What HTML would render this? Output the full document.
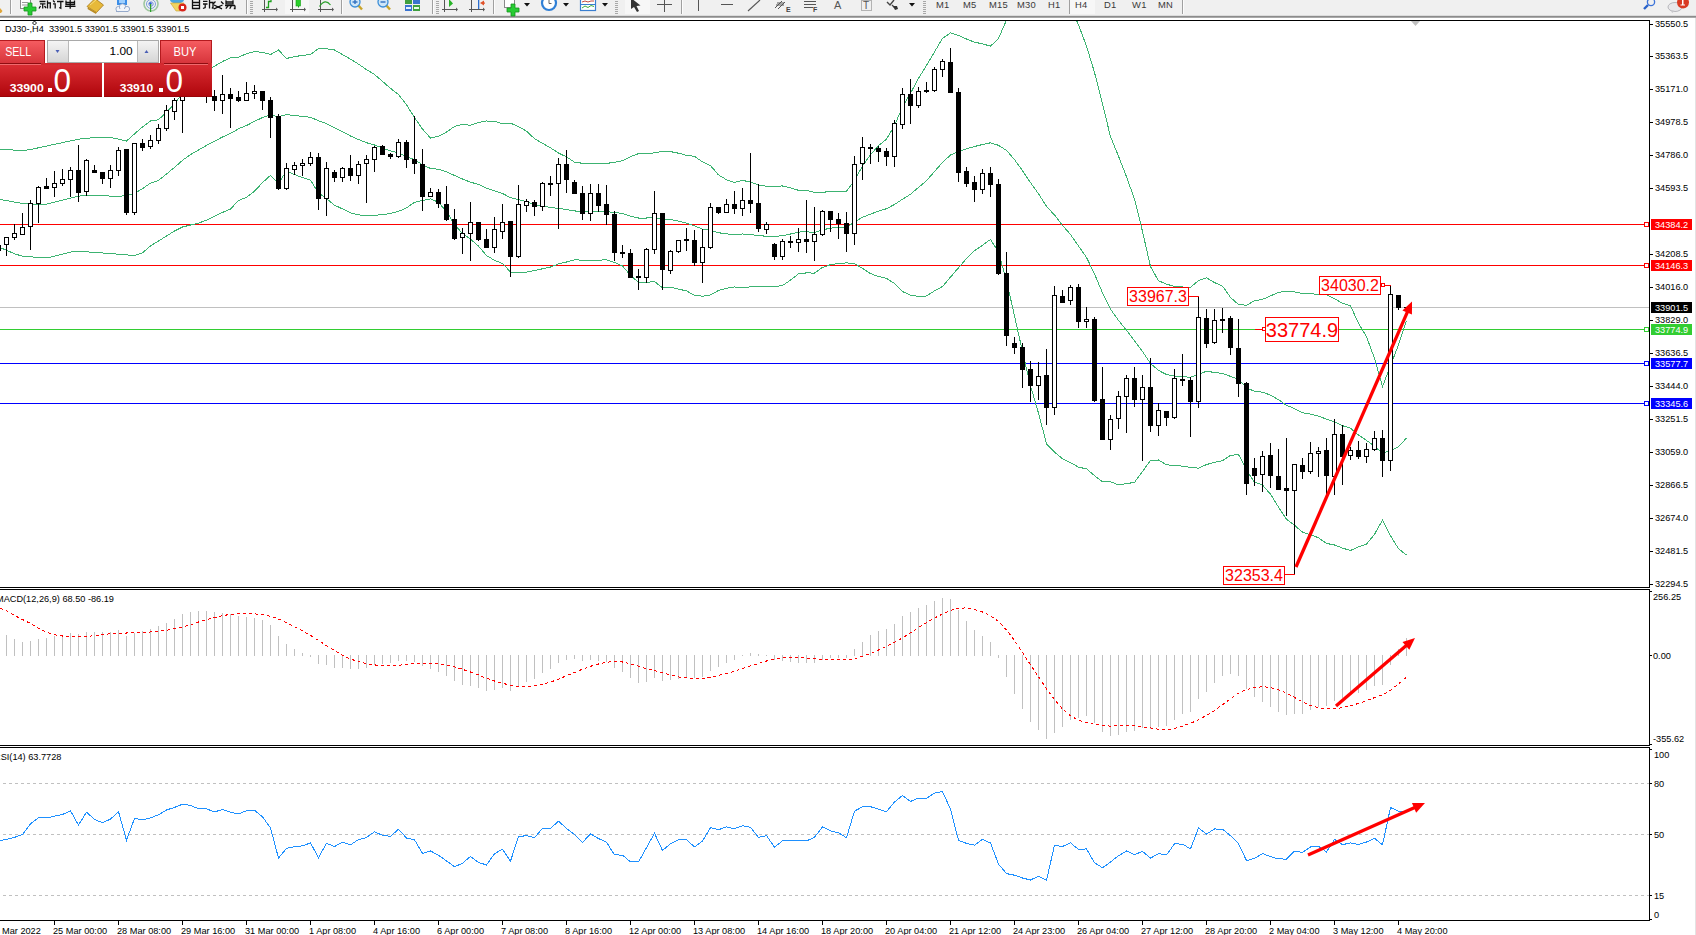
<!DOCTYPE html>
<html><head><meta charset="utf-8"><style>
html,body{margin:0;padding:0;width:1696px;height:935px;overflow:hidden;background:#fff;position:relative}
svg text{font-family:"Liberation Sans",sans-serif}
</style></head><body>
<svg width="1696" height="935" viewBox="0 0 1696 935" style="position:absolute;left:0;top:0">
<rect x="0" y="0" width="1696" height="935" fill="#fff"/>
<g shape-rendering="crispEdges">
<rect x="0" y="307" width="1649" height="1" fill="#c0c0c0"/>
<rect x="0" y="224" width="1644" height="1" fill="#ff0000"/>
<rect x="1644.5" y="222.5" width="4" height="4" fill="#fff" stroke="#ff0000" stroke-width="1"/>
<rect x="0" y="265" width="1644" height="1" fill="#ff0000"/>
<rect x="1644.5" y="263.5" width="4" height="4" fill="#fff" stroke="#ff0000" stroke-width="1"/>
<rect x="0" y="329" width="1644" height="1" fill="#32cd32"/>
<rect x="1644.5" y="327.5" width="4" height="4" fill="#fff" stroke="#32cd32" stroke-width="1"/>
<rect x="0" y="363" width="1644" height="1" fill="#0000ff"/>
<rect x="1644.5" y="361.5" width="4" height="4" fill="#fff" stroke="#0000ff" stroke-width="1"/>
<rect x="0" y="403" width="1644" height="1" fill="#0000ff"/>
<rect x="1644.5" y="401.5" width="4" height="4" fill="#fff" stroke="#0000ff" stroke-width="1"/>
</g>
<defs><clipPath id="cm"><rect x="0" y="21" width="1649" height="566"/></clipPath></defs>
<g shape-rendering="crispEdges" clip-path="url(#cm)">
<polyline points="0.0,149.3 6.5,149.7 14.5,150.1 22.5,150.6 30.5,149.5 38.5,147.8 46.5,146.1 54.5,144.3 62.5,142.6 70.5,140.9 78.5,139.2 86.5,138.1 94.5,137.9 102.5,137.7 110.5,137.5 118.5,139.2 126.5,141.0 134.5,133.9 142.5,126.9 150.5,121.0 158.5,119.7 166.5,112.1 174.5,103.7 182.5,93.7 190.5,84.2 198.5,76.8 206.5,70.7 214.5,66.3 222.5,61.5 230.5,57.8 238.5,57.1 246.5,53.7 254.5,51.6 262.5,52.4 270.5,54.5 278.5,50.0 286.5,58.5 294.5,56.6 302.5,55.4 310.5,54.4 318.5,48.7 326.5,48.8 334.5,50.0 342.5,54.5 350.5,59.2 358.5,64.1 366.5,69.6 374.5,74.5 382.5,81.4 390.5,88.3 398.5,94.6 406.5,104.7 414.5,117.6 422.5,129.1 430.5,138.1 438.5,136.2 446.5,132.1 454.5,126.5 462.5,124.3 470.5,125.3 478.5,122.4 486.5,121.0 494.5,121.4 502.5,123.6 510.5,123.1 518.5,126.7 526.5,131.1 534.5,138.7 542.5,143.3 550.5,147.8 558.5,153.0 566.5,156.9 574.5,162.1 582.5,163.3 590.5,163.5 598.5,163.6 606.5,163.5 614.5,162.2 622.5,160.8 630.5,156.7 638.5,153.6 646.5,153.5 654.5,152.9 662.5,151.3 670.5,151.6 678.5,153.2 686.5,155.3 694.5,156.4 702.5,161.9 710.5,165.6 718.5,174.9 726.5,179.7 734.5,182.4 742.5,180.3 750.5,182.2 758.5,185.0 766.5,186.2 774.5,186.1 782.5,186.0 790.5,187.8 798.5,190.3 806.5,190.4 814.5,192.3 822.5,192.2 830.5,191.7 838.5,191.3 846.5,191.3 854.5,180.6 862.5,166.0 870.5,154.7 878.5,145.7 886.5,139.1 894.5,125.5 902.5,106.8 910.5,93.3 918.5,78.3 926.5,65.5 934.5,51.9 942.5,38.4 950.5,32.9 958.5,35.5 966.5,39.0 974.5,42.2 982.5,43.8 990.5,46.2 998.5,38.4 1006.5,20.0 1014.5,3.3 1022.5,-10.2 1030.5,-20.6 1038.5,-25.5 1046.5,-31.0 1054.5,-22.2 1062.5,-7.9 1070.5,6.5 1078.5,24.9 1086.5,46.1 1094.5,72.4 1102.5,104.0 1110.5,136.7 1118.5,156.1 1126.5,176.8 1134.5,199.1 1142.5,231.4 1150.5,266.6 1158.5,280.8 1166.5,284.1 1174.5,286.5 1182.5,287.0 1190.5,287.2 1198.5,280.6 1206.5,277.8 1214.5,282.6 1222.5,286.1 1230.5,297.4 1238.5,304.5 1246.5,305.3 1254.5,300.7 1262.5,299.4 1270.5,295.9 1278.5,292.3 1286.5,291.5 1294.5,291.9 1302.5,293.4 1310.5,293.6 1318.5,294.6 1326.5,294.7 1334.5,298.8 1342.5,303.2 1350.5,305.8 1358.5,323.3 1366.5,336.7 1374.5,358.3 1382.5,386.6 1390.5,365.5 1398.5,344.9 1406.5,320.9" fill="none" stroke="#3cb371" stroke-width="1" />
<polyline points="0.0,199.4 6.5,200.6 14.5,202.1 22.5,203.5 30.5,204.2 38.5,204.4 46.5,204.1 54.5,202.1 62.5,200.2 70.5,198.2 78.5,196.2 86.5,195.1 94.5,195.4 102.5,195.7 110.5,196.1 118.5,196.4 126.5,195.4 134.5,193.4 142.5,188.6 150.5,183.2 158.5,180.4 166.5,174.0 174.5,167.4 182.5,160.3 190.5,154.6 198.5,150.0 206.5,145.4 214.5,141.2 222.5,137.0 230.5,133.4 238.5,128.8 246.5,125.5 254.5,121.4 262.5,117.5 270.5,114.9 278.5,116.8 286.5,114.6 294.5,115.6 302.5,116.4 310.5,117.3 318.5,120.8 326.5,123.7 334.5,127.6 342.5,131.7 350.5,136.0 358.5,139.5 366.5,142.7 374.5,145.0 382.5,148.0 390.5,150.9 398.5,153.0 406.5,156.3 414.5,159.9 422.5,164.7 430.5,168.5 438.5,169.2 446.5,171.8 454.5,175.5 462.5,179.0 470.5,182.2 478.5,184.3 486.5,188.2 494.5,190.8 502.5,193.5 510.5,197.6 518.5,199.6 526.5,201.7 534.5,204.6 542.5,206.1 550.5,207.4 558.5,208.5 566.5,209.5 574.5,210.9 582.5,211.8 590.5,211.8 598.5,211.9 606.5,211.7 614.5,212.4 622.5,213.4 630.5,216.1 638.5,218.0 646.5,218.0 654.5,217.2 662.5,219.6 670.5,219.4 678.5,221.2 686.5,223.1 694.5,225.9 702.5,229.1 710.5,230.3 718.5,232.7 726.5,233.9 734.5,234.7 742.5,234.0 750.5,234.5 758.5,235.7 766.5,236.2 774.5,236.4 782.5,235.7 790.5,234.0 798.5,232.1 806.5,231.7 814.5,232.7 822.5,229.8 830.5,228.2 838.5,227.4 846.5,227.1 854.5,222.2 862.5,217.2 870.5,214.2 878.5,211.1 886.5,208.7 894.5,204.5 902.5,199.2 910.5,194.3 918.5,187.4 926.5,180.8 934.5,171.4 942.5,162.5 950.5,155.0 958.5,151.7 966.5,148.7 974.5,146.5 982.5,144.5 990.5,142.8 998.5,145.3 1006.5,150.4 1014.5,159.6 1022.5,170.7 1030.5,182.6 1038.5,193.8 1046.5,206.4 1054.5,215.0 1062.5,225.4 1070.5,234.5 1078.5,246.0 1086.5,257.4 1094.5,274.0 1102.5,292.9 1110.5,309.2 1118.5,320.4 1126.5,330.2 1134.5,340.8 1142.5,351.5 1150.5,363.5 1158.5,370.4 1166.5,374.5 1174.5,376.0 1182.5,376.6 1190.5,377.3 1198.5,374.4 1206.5,371.2 1214.5,372.5 1222.5,373.4 1230.5,376.4 1238.5,379.5 1246.5,387.7 1254.5,391.4 1262.5,392.2 1270.5,395.1 1278.5,399.7 1286.5,405.3 1294.5,408.6 1302.5,412.8 1310.5,414.1 1318.5,416.2 1326.5,419.1 1334.5,421.9 1342.5,425.7 1350.5,428.1 1358.5,435.1 1366.5,440.4 1374.5,446.3 1382.5,453.3 1390.5,450.6 1398.5,446.8 1406.5,438.0" fill="none" stroke="#3cb371" stroke-width="1" />
<polyline points="0.0,247.5 6.5,250.3 14.5,253.8 22.5,256.2 30.5,256.8 38.5,257.4 46.5,258.0 54.5,256.1 62.5,254.1 70.5,252.1 78.5,251.3 86.5,251.8 94.5,252.4 102.5,253.0 110.5,253.6 118.5,254.2 126.5,254.9 134.5,255.6 142.5,252.9 150.5,245.9 158.5,241.0 166.5,236.0 174.5,231.0 182.5,227.0 190.5,225.0 198.5,223.2 206.5,220.1 214.5,216.2 222.5,212.4 230.5,209.0 238.5,200.5 246.5,197.3 254.5,191.2 262.5,182.6 270.5,175.3 278.5,183.6 286.5,170.7 294.5,174.6 302.5,177.5 310.5,180.2 318.5,193.0 326.5,198.6 334.5,205.2 342.5,208.9 350.5,212.8 358.5,214.8 366.5,215.7 374.5,215.4 382.5,214.6 390.5,213.5 398.5,211.4 406.5,207.9 414.5,202.3 422.5,200.4 430.5,198.9 438.5,202.3 446.5,211.5 454.5,224.5 462.5,233.7 470.5,239.1 478.5,246.1 486.5,255.5 494.5,260.3 502.5,263.5 510.5,272.0 518.5,272.5 526.5,272.2 534.5,270.6 542.5,268.8 550.5,267.0 558.5,263.9 566.5,262.0 574.5,259.8 582.5,260.2 590.5,260.2 598.5,260.2 606.5,259.8 614.5,262.5 622.5,265.9 630.5,275.4 638.5,282.4 646.5,282.5 654.5,281.5 662.5,287.9 670.5,287.1 678.5,289.1 686.5,290.9 694.5,295.3 702.5,296.2 710.5,294.9 718.5,290.5 726.5,288.2 734.5,287.0 742.5,287.7 750.5,286.8 758.5,286.4 766.5,286.2 774.5,286.6 782.5,285.5 790.5,280.1 798.5,273.8 806.5,272.9 814.5,273.1 822.5,267.4 830.5,264.7 838.5,263.5 846.5,262.9 854.5,263.7 862.5,268.3 870.5,273.6 878.5,276.5 886.5,278.4 894.5,283.5 902.5,291.6 910.5,295.2 918.5,296.4 926.5,296.0 934.5,290.9 942.5,286.5 950.5,277.1 958.5,267.8 966.5,258.5 974.5,250.7 982.5,245.3 990.5,239.4 998.5,252.2 1006.5,280.8 1014.5,315.9 1022.5,351.6 1030.5,385.8 1038.5,413.2 1046.5,443.8 1054.5,452.2 1062.5,458.7 1070.5,462.6 1078.5,467.2 1086.5,468.8 1094.5,475.6 1102.5,481.8 1110.5,481.8 1118.5,484.8 1126.5,483.6 1134.5,482.4 1142.5,471.5 1150.5,460.4 1158.5,460.0 1166.5,464.8 1174.5,465.6 1182.5,466.1 1190.5,467.4 1198.5,468.2 1206.5,464.6 1214.5,462.3 1222.5,460.7 1230.5,455.4 1238.5,454.4 1246.5,470.1 1254.5,482.1 1262.5,485.0 1270.5,494.2 1278.5,507.1 1286.5,519.2 1294.5,525.3 1302.5,532.1 1310.5,534.7 1318.5,537.8 1326.5,543.4 1334.5,545.0 1342.5,548.1 1350.5,550.5 1358.5,546.9 1366.5,544.1 1374.5,534.3 1382.5,520.0 1390.5,535.7 1398.5,548.7 1406.5,555.1" fill="none" stroke="#3cb371" stroke-width="1" />
</g>
<g shape-rendering="crispEdges">
<rect x="-2" y="240" width="1" height="14" fill="#000"/>
<rect x="-4" y="245" width="5" height="6" fill="#000"/>
<rect x="6" y="237" width="1" height="19" fill="#000"/>
<rect x="4" y="237" width="5" height="8" fill="#000"/>
<rect x="5" y="238" width="3" height="6" fill="#fff"/>
<rect x="14" y="224" width="1" height="16" fill="#000"/>
<rect x="12" y="233" width="5" height="5" fill="#000"/>
<rect x="13" y="234" width="3" height="3" fill="#fff"/>
<rect x="22" y="213" width="1" height="22" fill="#000"/>
<rect x="20" y="227" width="5" height="8" fill="#000"/>
<rect x="21" y="228" width="3" height="6" fill="#fff"/>
<rect x="30" y="200" width="1" height="50" fill="#000"/>
<rect x="28" y="203" width="5" height="24" fill="#000"/>
<rect x="29" y="204" width="3" height="22" fill="#fff"/>
<rect x="38" y="186" width="1" height="37" fill="#000"/>
<rect x="36" y="187" width="5" height="17" fill="#000"/>
<rect x="37" y="188" width="3" height="15" fill="#fff"/>
<rect x="46" y="178" width="1" height="11" fill="#000"/>
<rect x="44" y="186" width="5" height="3" fill="#000"/>
<rect x="54" y="171" width="1" height="26" fill="#000"/>
<rect x="52" y="183" width="5" height="5" fill="#000"/>
<rect x="53" y="184" width="3" height="3" fill="#fff"/>
<rect x="62" y="169" width="1" height="17" fill="#000"/>
<rect x="60" y="179" width="5" height="5" fill="#000"/>
<rect x="61" y="180" width="3" height="3" fill="#fff"/>
<rect x="70" y="167" width="1" height="30" fill="#000"/>
<rect x="68" y="170" width="5" height="10" fill="#000"/>
<rect x="69" y="171" width="3" height="8" fill="#fff"/>
<rect x="78" y="145" width="1" height="57" fill="#000"/>
<rect x="76" y="170" width="5" height="23" fill="#000"/>
<rect x="86" y="159" width="1" height="37" fill="#000"/>
<rect x="84" y="160" width="5" height="32" fill="#000"/>
<rect x="85" y="161" width="3" height="30" fill="#fff"/>
<rect x="94" y="165" width="1" height="8" fill="#000"/>
<rect x="92" y="170" width="5" height="3" fill="#000"/>
<rect x="102" y="172" width="1" height="12" fill="#000"/>
<rect x="100" y="172" width="5" height="7" fill="#000"/>
<rect x="110" y="165" width="1" height="23" fill="#000"/>
<rect x="108" y="170" width="5" height="9" fill="#000"/>
<rect x="109" y="171" width="3" height="7" fill="#fff"/>
<rect x="118" y="147" width="1" height="29" fill="#000"/>
<rect x="116" y="150" width="5" height="21" fill="#000"/>
<rect x="117" y="151" width="3" height="19" fill="#fff"/>
<rect x="126" y="149" width="1" height="66" fill="#000"/>
<rect x="124" y="149" width="5" height="64" fill="#000"/>
<rect x="134" y="143" width="1" height="72" fill="#000"/>
<rect x="132" y="143" width="5" height="70" fill="#000"/>
<rect x="133" y="144" width="3" height="68" fill="#fff"/>
<rect x="142" y="139" width="1" height="12" fill="#000"/>
<rect x="140" y="143" width="5" height="5" fill="#000"/>
<rect x="150" y="135" width="1" height="14" fill="#000"/>
<rect x="148" y="140" width="5" height="7" fill="#000"/>
<rect x="149" y="141" width="3" height="5" fill="#fff"/>
<rect x="158" y="124" width="1" height="20" fill="#000"/>
<rect x="156" y="128" width="5" height="13" fill="#000"/>
<rect x="157" y="129" width="3" height="11" fill="#fff"/>
<rect x="166" y="105" width="1" height="26" fill="#000"/>
<rect x="164" y="110" width="5" height="19" fill="#000"/>
<rect x="165" y="111" width="3" height="17" fill="#fff"/>
<rect x="174" y="98" width="1" height="22" fill="#000"/>
<rect x="172" y="100" width="5" height="12" fill="#000"/>
<rect x="173" y="101" width="3" height="10" fill="#fff"/>
<rect x="182" y="84" width="1" height="49" fill="#000"/>
<rect x="180" y="86" width="5" height="15" fill="#000"/>
<rect x="181" y="87" width="3" height="13" fill="#fff"/>
<rect x="190" y="80" width="1" height="16" fill="#000"/>
<rect x="188" y="86" width="5" height="3" fill="#000"/>
<rect x="198" y="85" width="1" height="12" fill="#000"/>
<rect x="196" y="88" width="5" height="8" fill="#000"/>
<rect x="206" y="90" width="1" height="13" fill="#000"/>
<rect x="204" y="92" width="5" height="4" fill="#000"/>
<rect x="214" y="90" width="1" height="21" fill="#000"/>
<rect x="212" y="96" width="5" height="5" fill="#000"/>
<rect x="222" y="75" width="1" height="39" fill="#000"/>
<rect x="220" y="94" width="5" height="7" fill="#000"/>
<rect x="221" y="95" width="3" height="5" fill="#fff"/>
<rect x="230" y="88" width="1" height="40" fill="#000"/>
<rect x="228" y="94" width="5" height="5" fill="#000"/>
<rect x="238" y="91" width="1" height="11" fill="#000"/>
<rect x="236" y="97" width="5" height="4" fill="#000"/>
<rect x="246" y="82" width="1" height="19" fill="#000"/>
<rect x="244" y="93" width="5" height="8" fill="#000"/>
<rect x="245" y="94" width="3" height="6" fill="#fff"/>
<rect x="254" y="85" width="1" height="14" fill="#000"/>
<rect x="252" y="91" width="5" height="3" fill="#000"/>
<rect x="253" y="92" width="3" height="1" fill="#fff"/>
<rect x="262" y="91" width="1" height="19" fill="#000"/>
<rect x="260" y="91" width="5" height="10" fill="#000"/>
<rect x="270" y="97" width="1" height="41" fill="#000"/>
<rect x="268" y="100" width="5" height="18" fill="#000"/>
<rect x="278" y="114" width="1" height="76" fill="#000"/>
<rect x="276" y="116" width="5" height="73" fill="#000"/>
<rect x="286" y="163" width="1" height="27" fill="#000"/>
<rect x="284" y="168" width="5" height="21" fill="#000"/>
<rect x="285" y="169" width="3" height="19" fill="#fff"/>
<rect x="294" y="162" width="1" height="13" fill="#000"/>
<rect x="292" y="165" width="5" height="5" fill="#000"/>
<rect x="293" y="166" width="3" height="3" fill="#fff"/>
<rect x="302" y="159" width="1" height="17" fill="#000"/>
<rect x="300" y="163" width="5" height="3" fill="#000"/>
<rect x="301" y="164" width="3" height="1" fill="#fff"/>
<rect x="310" y="152" width="1" height="14" fill="#000"/>
<rect x="308" y="157" width="5" height="7" fill="#000"/>
<rect x="309" y="158" width="3" height="5" fill="#fff"/>
<rect x="318" y="153" width="1" height="57" fill="#000"/>
<rect x="316" y="157" width="5" height="42" fill="#000"/>
<rect x="326" y="162" width="1" height="54" fill="#000"/>
<rect x="324" y="168" width="5" height="31" fill="#000"/>
<rect x="325" y="169" width="3" height="29" fill="#fff"/>
<rect x="334" y="170" width="1" height="12" fill="#000"/>
<rect x="332" y="172" width="5" height="6" fill="#000"/>
<rect x="342" y="167" width="1" height="15" fill="#000"/>
<rect x="340" y="168" width="5" height="10" fill="#000"/>
<rect x="341" y="169" width="3" height="8" fill="#fff"/>
<rect x="350" y="155" width="1" height="26" fill="#000"/>
<rect x="348" y="168" width="5" height="8" fill="#000"/>
<rect x="358" y="161" width="1" height="23" fill="#000"/>
<rect x="356" y="164" width="5" height="12" fill="#000"/>
<rect x="357" y="165" width="3" height="10" fill="#fff"/>
<rect x="366" y="155" width="1" height="48" fill="#000"/>
<rect x="364" y="159" width="5" height="5" fill="#000"/>
<rect x="365" y="160" width="3" height="3" fill="#fff"/>
<rect x="374" y="146" width="1" height="26" fill="#000"/>
<rect x="372" y="147" width="5" height="13" fill="#000"/>
<rect x="373" y="148" width="3" height="11" fill="#fff"/>
<rect x="382" y="145" width="1" height="10" fill="#000"/>
<rect x="380" y="146" width="5" height="9" fill="#000"/>
<rect x="390" y="153" width="1" height="6" fill="#000"/>
<rect x="388" y="154" width="5" height="3" fill="#000"/>
<rect x="398" y="139" width="1" height="19" fill="#000"/>
<rect x="396" y="142" width="5" height="15" fill="#000"/>
<rect x="397" y="143" width="3" height="13" fill="#fff"/>
<rect x="406" y="140" width="1" height="28" fill="#000"/>
<rect x="404" y="142" width="5" height="18" fill="#000"/>
<rect x="414" y="116" width="1" height="58" fill="#000"/>
<rect x="412" y="159" width="5" height="5" fill="#000"/>
<rect x="422" y="149" width="1" height="62" fill="#000"/>
<rect x="420" y="164" width="5" height="33" fill="#000"/>
<rect x="430" y="188" width="1" height="9" fill="#000"/>
<rect x="428" y="192" width="5" height="5" fill="#000"/>
<rect x="429" y="193" width="3" height="3" fill="#fff"/>
<rect x="438" y="189" width="1" height="19" fill="#000"/>
<rect x="436" y="192" width="5" height="12" fill="#000"/>
<rect x="446" y="186" width="1" height="35" fill="#000"/>
<rect x="444" y="204" width="5" height="16" fill="#000"/>
<rect x="454" y="209" width="1" height="31" fill="#000"/>
<rect x="452" y="219" width="5" height="20" fill="#000"/>
<rect x="462" y="228" width="1" height="26" fill="#000"/>
<rect x="460" y="233" width="5" height="5" fill="#000"/>
<rect x="461" y="234" width="3" height="3" fill="#fff"/>
<rect x="470" y="202" width="1" height="59" fill="#000"/>
<rect x="468" y="222" width="5" height="12" fill="#000"/>
<rect x="469" y="223" width="3" height="10" fill="#fff"/>
<rect x="478" y="222" width="1" height="19" fill="#000"/>
<rect x="476" y="222" width="5" height="18" fill="#000"/>
<rect x="486" y="229" width="1" height="19" fill="#000"/>
<rect x="484" y="239" width="5" height="9" fill="#000"/>
<rect x="494" y="217" width="1" height="36" fill="#000"/>
<rect x="492" y="229" width="5" height="19" fill="#000"/>
<rect x="493" y="230" width="3" height="17" fill="#fff"/>
<rect x="502" y="204" width="1" height="35" fill="#000"/>
<rect x="500" y="222" width="5" height="10" fill="#000"/>
<rect x="501" y="223" width="3" height="8" fill="#fff"/>
<rect x="510" y="221" width="1" height="56" fill="#000"/>
<rect x="508" y="221" width="5" height="36" fill="#000"/>
<rect x="518" y="185" width="1" height="73" fill="#000"/>
<rect x="516" y="204" width="5" height="53" fill="#000"/>
<rect x="517" y="205" width="3" height="51" fill="#fff"/>
<rect x="526" y="199" width="1" height="13" fill="#000"/>
<rect x="524" y="201" width="5" height="5" fill="#000"/>
<rect x="525" y="202" width="3" height="3" fill="#fff"/>
<rect x="534" y="200" width="1" height="16" fill="#000"/>
<rect x="532" y="202" width="5" height="5" fill="#000"/>
<rect x="542" y="182" width="1" height="29" fill="#000"/>
<rect x="540" y="183" width="5" height="24" fill="#000"/>
<rect x="541" y="184" width="3" height="22" fill="#fff"/>
<rect x="550" y="176" width="1" height="20" fill="#000"/>
<rect x="548" y="183" width="5" height="2" fill="#000"/>
<rect x="558" y="158" width="1" height="71" fill="#000"/>
<rect x="556" y="164" width="5" height="20" fill="#000"/>
<rect x="557" y="165" width="3" height="18" fill="#fff"/>
<rect x="566" y="150" width="1" height="43" fill="#000"/>
<rect x="564" y="164" width="5" height="16" fill="#000"/>
<rect x="574" y="180" width="1" height="14" fill="#000"/>
<rect x="572" y="182" width="5" height="12" fill="#000"/>
<rect x="582" y="186" width="1" height="34" fill="#000"/>
<rect x="580" y="193" width="5" height="21" fill="#000"/>
<rect x="590" y="184" width="1" height="37" fill="#000"/>
<rect x="588" y="193" width="5" height="21" fill="#000"/>
<rect x="589" y="194" width="3" height="19" fill="#fff"/>
<rect x="598" y="184" width="1" height="28" fill="#000"/>
<rect x="596" y="193" width="5" height="13" fill="#000"/>
<rect x="606" y="185" width="1" height="40" fill="#000"/>
<rect x="604" y="204" width="5" height="11" fill="#000"/>
<rect x="614" y="211" width="1" height="50" fill="#000"/>
<rect x="612" y="214" width="5" height="39" fill="#000"/>
<rect x="622" y="245" width="1" height="13" fill="#000"/>
<rect x="620" y="252" width="5" height="2" fill="#000"/>
<rect x="630" y="249" width="1" height="29" fill="#000"/>
<rect x="628" y="253" width="5" height="25" fill="#000"/>
<rect x="638" y="269" width="1" height="21" fill="#000"/>
<rect x="636" y="276" width="5" height="2" fill="#000"/>
<rect x="646" y="248" width="1" height="35" fill="#000"/>
<rect x="644" y="249" width="5" height="29" fill="#000"/>
<rect x="645" y="250" width="3" height="27" fill="#fff"/>
<rect x="654" y="191" width="1" height="63" fill="#000"/>
<rect x="652" y="213" width="5" height="37" fill="#000"/>
<rect x="653" y="214" width="3" height="35" fill="#fff"/>
<rect x="662" y="213" width="1" height="77" fill="#000"/>
<rect x="660" y="213" width="5" height="57" fill="#000"/>
<rect x="670" y="250" width="1" height="24" fill="#000"/>
<rect x="668" y="251" width="5" height="20" fill="#000"/>
<rect x="669" y="252" width="3" height="18" fill="#fff"/>
<rect x="678" y="240" width="1" height="13" fill="#000"/>
<rect x="676" y="240" width="5" height="12" fill="#000"/>
<rect x="677" y="241" width="3" height="10" fill="#fff"/>
<rect x="686" y="228" width="1" height="23" fill="#000"/>
<rect x="684" y="239" width="5" height="2" fill="#000"/>
<rect x="694" y="230" width="1" height="36" fill="#000"/>
<rect x="692" y="240" width="5" height="23" fill="#000"/>
<rect x="702" y="229" width="1" height="54" fill="#000"/>
<rect x="700" y="247" width="5" height="16" fill="#000"/>
<rect x="701" y="248" width="3" height="14" fill="#fff"/>
<rect x="710" y="203" width="1" height="46" fill="#000"/>
<rect x="708" y="207" width="5" height="41" fill="#000"/>
<rect x="709" y="208" width="3" height="39" fill="#fff"/>
<rect x="718" y="207" width="1" height="7" fill="#000"/>
<rect x="716" y="207" width="5" height="6" fill="#000"/>
<rect x="726" y="199" width="1" height="14" fill="#000"/>
<rect x="724" y="204" width="5" height="9" fill="#000"/>
<rect x="725" y="205" width="3" height="7" fill="#fff"/>
<rect x="734" y="191" width="1" height="23" fill="#000"/>
<rect x="732" y="204" width="5" height="5" fill="#000"/>
<rect x="742" y="188" width="1" height="28" fill="#000"/>
<rect x="740" y="200" width="5" height="9" fill="#000"/>
<rect x="741" y="201" width="3" height="7" fill="#fff"/>
<rect x="750" y="153" width="1" height="60" fill="#000"/>
<rect x="748" y="200" width="5" height="4" fill="#000"/>
<rect x="758" y="184" width="1" height="48" fill="#000"/>
<rect x="756" y="203" width="5" height="26" fill="#000"/>
<rect x="766" y="222" width="1" height="12" fill="#000"/>
<rect x="764" y="224" width="5" height="6" fill="#000"/>
<rect x="765" y="225" width="3" height="4" fill="#fff"/>
<rect x="774" y="243" width="1" height="17" fill="#000"/>
<rect x="772" y="244" width="5" height="13" fill="#000"/>
<rect x="782" y="239" width="1" height="21" fill="#000"/>
<rect x="780" y="241" width="5" height="16" fill="#000"/>
<rect x="781" y="242" width="3" height="14" fill="#fff"/>
<rect x="790" y="236" width="1" height="12" fill="#000"/>
<rect x="788" y="241" width="5" height="2" fill="#000"/>
<rect x="798" y="228" width="1" height="24" fill="#000"/>
<rect x="796" y="239" width="5" height="4" fill="#000"/>
<rect x="797" y="240" width="3" height="2" fill="#fff"/>
<rect x="806" y="200" width="1" height="53" fill="#000"/>
<rect x="804" y="239" width="5" height="3" fill="#000"/>
<rect x="814" y="207" width="1" height="54" fill="#000"/>
<rect x="812" y="234" width="5" height="8" fill="#000"/>
<rect x="813" y="235" width="3" height="6" fill="#fff"/>
<rect x="822" y="210" width="1" height="26" fill="#000"/>
<rect x="820" y="211" width="5" height="24" fill="#000"/>
<rect x="821" y="212" width="3" height="22" fill="#fff"/>
<rect x="830" y="211" width="1" height="21" fill="#000"/>
<rect x="828" y="211" width="5" height="9" fill="#000"/>
<rect x="838" y="213" width="1" height="26" fill="#000"/>
<rect x="836" y="219" width="5" height="5" fill="#000"/>
<rect x="846" y="212" width="1" height="40" fill="#000"/>
<rect x="844" y="223" width="5" height="11" fill="#000"/>
<rect x="854" y="156" width="1" height="89" fill="#000"/>
<rect x="852" y="164" width="5" height="70" fill="#000"/>
<rect x="853" y="165" width="3" height="68" fill="#fff"/>
<rect x="862" y="137" width="1" height="43" fill="#000"/>
<rect x="860" y="147" width="5" height="17" fill="#000"/>
<rect x="861" y="148" width="3" height="15" fill="#fff"/>
<rect x="870" y="144" width="1" height="20" fill="#000"/>
<rect x="868" y="147" width="5" height="2" fill="#000"/>
<rect x="878" y="146" width="1" height="16" fill="#000"/>
<rect x="876" y="148" width="5" height="4" fill="#000"/>
<rect x="886" y="148" width="1" height="18" fill="#000"/>
<rect x="884" y="151" width="5" height="6" fill="#000"/>
<rect x="894" y="120" width="1" height="47" fill="#000"/>
<rect x="892" y="123" width="5" height="34" fill="#000"/>
<rect x="893" y="124" width="3" height="32" fill="#fff"/>
<rect x="902" y="88" width="1" height="41" fill="#000"/>
<rect x="900" y="94" width="5" height="31" fill="#000"/>
<rect x="901" y="95" width="3" height="29" fill="#fff"/>
<rect x="910" y="79" width="1" height="45" fill="#000"/>
<rect x="908" y="94" width="5" height="12" fill="#000"/>
<rect x="918" y="87" width="1" height="21" fill="#000"/>
<rect x="916" y="91" width="5" height="15" fill="#000"/>
<rect x="917" y="92" width="3" height="13" fill="#fff"/>
<rect x="926" y="82" width="1" height="11" fill="#000"/>
<rect x="924" y="90" width="5" height="2" fill="#000"/>
<rect x="934" y="67" width="1" height="25" fill="#000"/>
<rect x="932" y="69" width="5" height="22" fill="#000"/>
<rect x="933" y="70" width="3" height="20" fill="#fff"/>
<rect x="942" y="59" width="1" height="18" fill="#000"/>
<rect x="940" y="61" width="5" height="9" fill="#000"/>
<rect x="941" y="62" width="3" height="7" fill="#fff"/>
<rect x="950" y="48" width="1" height="45" fill="#000"/>
<rect x="948" y="62" width="5" height="31" fill="#000"/>
<rect x="958" y="88" width="1" height="94" fill="#000"/>
<rect x="956" y="92" width="5" height="81" fill="#000"/>
<rect x="966" y="167" width="1" height="20" fill="#000"/>
<rect x="964" y="171" width="5" height="13" fill="#000"/>
<rect x="974" y="176" width="1" height="26" fill="#000"/>
<rect x="972" y="182" width="5" height="8" fill="#000"/>
<rect x="982" y="169" width="1" height="25" fill="#000"/>
<rect x="980" y="173" width="5" height="17" fill="#000"/>
<rect x="981" y="174" width="3" height="15" fill="#fff"/>
<rect x="990" y="167" width="1" height="30" fill="#000"/>
<rect x="988" y="173" width="5" height="12" fill="#000"/>
<rect x="998" y="179" width="1" height="96" fill="#000"/>
<rect x="996" y="184" width="5" height="90" fill="#000"/>
<rect x="1006" y="252" width="1" height="94" fill="#000"/>
<rect x="1004" y="273" width="5" height="63" fill="#000"/>
<rect x="1014" y="337" width="1" height="17" fill="#000"/>
<rect x="1012" y="343" width="5" height="5" fill="#000"/>
<rect x="1022" y="343" width="1" height="45" fill="#000"/>
<rect x="1020" y="347" width="5" height="23" fill="#000"/>
<rect x="1030" y="361" width="1" height="41" fill="#000"/>
<rect x="1028" y="369" width="5" height="17" fill="#000"/>
<rect x="1038" y="362" width="1" height="38" fill="#000"/>
<rect x="1036" y="376" width="5" height="10" fill="#000"/>
<rect x="1037" y="377" width="3" height="8" fill="#fff"/>
<rect x="1046" y="349" width="1" height="76" fill="#000"/>
<rect x="1044" y="375" width="5" height="33" fill="#000"/>
<rect x="1054" y="286" width="1" height="129" fill="#000"/>
<rect x="1052" y="295" width="5" height="113" fill="#000"/>
<rect x="1053" y="296" width="3" height="111" fill="#fff"/>
<rect x="1062" y="290" width="1" height="13" fill="#000"/>
<rect x="1060" y="296" width="5" height="7" fill="#000"/>
<rect x="1070" y="285" width="1" height="20" fill="#000"/>
<rect x="1068" y="287" width="5" height="14" fill="#000"/>
<rect x="1069" y="288" width="3" height="12" fill="#fff"/>
<rect x="1078" y="284" width="1" height="44" fill="#000"/>
<rect x="1076" y="287" width="5" height="35" fill="#000"/>
<rect x="1086" y="307" width="1" height="21" fill="#000"/>
<rect x="1084" y="319" width="5" height="3" fill="#000"/>
<rect x="1085" y="320" width="3" height="1" fill="#fff"/>
<rect x="1094" y="317" width="1" height="85" fill="#000"/>
<rect x="1092" y="319" width="5" height="82" fill="#000"/>
<rect x="1102" y="367" width="1" height="73" fill="#000"/>
<rect x="1100" y="399" width="5" height="41" fill="#000"/>
<rect x="1110" y="415" width="1" height="35" fill="#000"/>
<rect x="1108" y="419" width="5" height="21" fill="#000"/>
<rect x="1109" y="420" width="3" height="19" fill="#fff"/>
<rect x="1118" y="391" width="1" height="38" fill="#000"/>
<rect x="1116" y="396" width="5" height="23" fill="#000"/>
<rect x="1117" y="397" width="3" height="21" fill="#fff"/>
<rect x="1126" y="375" width="1" height="58" fill="#000"/>
<rect x="1124" y="378" width="5" height="19" fill="#000"/>
<rect x="1125" y="379" width="3" height="17" fill="#fff"/>
<rect x="1134" y="367" width="1" height="40" fill="#000"/>
<rect x="1132" y="378" width="5" height="22" fill="#000"/>
<rect x="1142" y="375" width="1" height="86" fill="#000"/>
<rect x="1140" y="387" width="5" height="13" fill="#000"/>
<rect x="1141" y="388" width="3" height="11" fill="#fff"/>
<rect x="1150" y="358" width="1" height="74" fill="#000"/>
<rect x="1148" y="387" width="5" height="39" fill="#000"/>
<rect x="1158" y="403" width="1" height="33" fill="#000"/>
<rect x="1156" y="410" width="5" height="16" fill="#000"/>
<rect x="1157" y="411" width="3" height="14" fill="#fff"/>
<rect x="1166" y="411" width="1" height="15" fill="#000"/>
<rect x="1164" y="411" width="5" height="7" fill="#000"/>
<rect x="1174" y="369" width="1" height="50" fill="#000"/>
<rect x="1172" y="378" width="5" height="40" fill="#000"/>
<rect x="1173" y="379" width="3" height="38" fill="#fff"/>
<rect x="1182" y="354" width="1" height="32" fill="#000"/>
<rect x="1180" y="379" width="5" height="2" fill="#000"/>
<rect x="1190" y="377" width="1" height="60" fill="#000"/>
<rect x="1188" y="380" width="5" height="22" fill="#000"/>
<rect x="1198" y="296" width="1" height="112" fill="#000"/>
<rect x="1196" y="317" width="5" height="85" fill="#000"/>
<rect x="1197" y="318" width="3" height="83" fill="#fff"/>
<rect x="1206" y="309" width="1" height="39" fill="#000"/>
<rect x="1204" y="318" width="5" height="26" fill="#000"/>
<rect x="1214" y="309" width="1" height="35" fill="#000"/>
<rect x="1212" y="320" width="5" height="23" fill="#000"/>
<rect x="1213" y="321" width="3" height="21" fill="#fff"/>
<rect x="1222" y="308" width="1" height="25" fill="#000"/>
<rect x="1220" y="319" width="5" height="2" fill="#000"/>
<rect x="1230" y="316" width="1" height="39" fill="#000"/>
<rect x="1228" y="318" width="5" height="30" fill="#000"/>
<rect x="1238" y="319" width="1" height="78" fill="#000"/>
<rect x="1236" y="348" width="5" height="36" fill="#000"/>
<rect x="1246" y="382" width="1" height="113" fill="#000"/>
<rect x="1244" y="383" width="5" height="101" fill="#000"/>
<rect x="1254" y="458" width="1" height="28" fill="#000"/>
<rect x="1252" y="468" width="5" height="8" fill="#000"/>
<rect x="1262" y="451" width="1" height="41" fill="#000"/>
<rect x="1260" y="456" width="5" height="19" fill="#000"/>
<rect x="1261" y="457" width="3" height="17" fill="#fff"/>
<rect x="1270" y="443" width="1" height="45" fill="#000"/>
<rect x="1268" y="455" width="5" height="21" fill="#000"/>
<rect x="1278" y="449" width="1" height="41" fill="#000"/>
<rect x="1276" y="476" width="5" height="14" fill="#000"/>
<rect x="1286" y="438" width="1" height="78" fill="#000"/>
<rect x="1284" y="488" width="5" height="3" fill="#000"/>
<rect x="1294" y="464" width="1" height="111" fill="#000"/>
<rect x="1292" y="464" width="5" height="27" fill="#000"/>
<rect x="1293" y="465" width="3" height="25" fill="#fff"/>
<rect x="1302" y="458" width="1" height="21" fill="#000"/>
<rect x="1300" y="465" width="5" height="7" fill="#000"/>
<rect x="1310" y="442" width="1" height="32" fill="#000"/>
<rect x="1308" y="453" width="5" height="19" fill="#000"/>
<rect x="1309" y="454" width="3" height="17" fill="#fff"/>
<rect x="1318" y="447" width="1" height="30" fill="#000"/>
<rect x="1316" y="451" width="5" height="3" fill="#000"/>
<rect x="1317" y="452" width="3" height="1" fill="#fff"/>
<rect x="1326" y="438" width="1" height="59" fill="#000"/>
<rect x="1324" y="450" width="5" height="26" fill="#000"/>
<rect x="1334" y="419" width="1" height="76" fill="#000"/>
<rect x="1332" y="434" width="5" height="43" fill="#000"/>
<rect x="1333" y="435" width="3" height="41" fill="#fff"/>
<rect x="1342" y="425" width="1" height="60" fill="#000"/>
<rect x="1340" y="434" width="5" height="23" fill="#000"/>
<rect x="1350" y="447" width="1" height="13" fill="#000"/>
<rect x="1348" y="450" width="5" height="6" fill="#000"/>
<rect x="1349" y="451" width="3" height="4" fill="#fff"/>
<rect x="1358" y="441" width="1" height="18" fill="#000"/>
<rect x="1356" y="450" width="5" height="7" fill="#000"/>
<rect x="1366" y="443" width="1" height="20" fill="#000"/>
<rect x="1364" y="449" width="5" height="8" fill="#000"/>
<rect x="1365" y="450" width="3" height="6" fill="#fff"/>
<rect x="1374" y="431" width="1" height="20" fill="#000"/>
<rect x="1372" y="438" width="5" height="12" fill="#000"/>
<rect x="1373" y="439" width="3" height="10" fill="#fff"/>
<rect x="1382" y="430" width="1" height="47" fill="#000"/>
<rect x="1380" y="438" width="5" height="23" fill="#000"/>
<rect x="1390" y="285" width="1" height="186" fill="#000"/>
<rect x="1388" y="294" width="5" height="167" fill="#000"/>
<rect x="1389" y="295" width="3" height="165" fill="#fff"/>
<rect x="1398" y="295" width="1" height="15" fill="#000"/>
<rect x="1396" y="295" width="5" height="13" fill="#000"/>
<rect x="1406" y="307" width="1" height="1" fill="#000"/>
<rect x="1404" y="307" width="5" height="1" fill="#000"/>
</g>
<g shape-rendering="crispEdges">
<rect x="6" y="635" width="1" height="21" fill="#c0c0c0"/>
<rect x="14" y="639" width="1" height="17" fill="#c0c0c0"/>
<rect x="22" y="642" width="1" height="14" fill="#c0c0c0"/>
<rect x="30" y="641" width="1" height="15" fill="#c0c0c0"/>
<rect x="38" y="639" width="1" height="17" fill="#c0c0c0"/>
<rect x="46" y="638" width="1" height="18" fill="#c0c0c0"/>
<rect x="54" y="636" width="1" height="20" fill="#c0c0c0"/>
<rect x="62" y="635" width="1" height="21" fill="#c0c0c0"/>
<rect x="70" y="633" width="1" height="23" fill="#c0c0c0"/>
<rect x="78" y="634" width="1" height="22" fill="#c0c0c0"/>
<rect x="86" y="632" width="1" height="24" fill="#c0c0c0"/>
<rect x="94" y="632" width="1" height="24" fill="#c0c0c0"/>
<rect x="102" y="632" width="1" height="24" fill="#c0c0c0"/>
<rect x="110" y="632" width="1" height="24" fill="#c0c0c0"/>
<rect x="118" y="630" width="1" height="26" fill="#c0c0c0"/>
<rect x="126" y="636" width="1" height="20" fill="#c0c0c0"/>
<rect x="134" y="633" width="1" height="23" fill="#c0c0c0"/>
<rect x="142" y="631" width="1" height="25" fill="#c0c0c0"/>
<rect x="150" y="629" width="1" height="27" fill="#c0c0c0"/>
<rect x="158" y="626" width="1" height="30" fill="#c0c0c0"/>
<rect x="166" y="623" width="1" height="33" fill="#c0c0c0"/>
<rect x="174" y="619" width="1" height="37" fill="#c0c0c0"/>
<rect x="182" y="614" width="1" height="42" fill="#c0c0c0"/>
<rect x="190" y="612" width="1" height="44" fill="#c0c0c0"/>
<rect x="198" y="611" width="1" height="45" fill="#c0c0c0"/>
<rect x="206" y="611" width="1" height="45" fill="#c0c0c0"/>
<rect x="214" y="612" width="1" height="44" fill="#c0c0c0"/>
<rect x="222" y="613" width="1" height="43" fill="#c0c0c0"/>
<rect x="230" y="614" width="1" height="42" fill="#c0c0c0"/>
<rect x="238" y="616" width="1" height="40" fill="#c0c0c0"/>
<rect x="246" y="617" width="1" height="39" fill="#c0c0c0"/>
<rect x="254" y="618" width="1" height="38" fill="#c0c0c0"/>
<rect x="262" y="620" width="1" height="36" fill="#c0c0c0"/>
<rect x="270" y="625" width="1" height="31" fill="#c0c0c0"/>
<rect x="278" y="636" width="1" height="20" fill="#c0c0c0"/>
<rect x="286" y="644" width="1" height="12" fill="#c0c0c0"/>
<rect x="294" y="649" width="1" height="7" fill="#c0c0c0"/>
<rect x="302" y="653" width="1" height="3" fill="#c0c0c0"/>
<rect x="310" y="655" width="1" height="2" fill="#c0c0c0"/>
<rect x="318" y="655" width="1" height="9" fill="#c0c0c0"/>
<rect x="326" y="655" width="1" height="10" fill="#c0c0c0"/>
<rect x="334" y="655" width="1" height="13" fill="#c0c0c0"/>
<rect x="342" y="655" width="1" height="13" fill="#c0c0c0"/>
<rect x="350" y="655" width="1" height="14" fill="#c0c0c0"/>
<rect x="358" y="655" width="1" height="14" fill="#c0c0c0"/>
<rect x="366" y="655" width="1" height="13" fill="#c0c0c0"/>
<rect x="374" y="655" width="1" height="10" fill="#c0c0c0"/>
<rect x="382" y="655" width="1" height="9" fill="#c0c0c0"/>
<rect x="390" y="655" width="1" height="8" fill="#c0c0c0"/>
<rect x="398" y="655" width="1" height="6" fill="#c0c0c0"/>
<rect x="406" y="655" width="1" height="6" fill="#c0c0c0"/>
<rect x="414" y="655" width="1" height="7" fill="#c0c0c0"/>
<rect x="422" y="655" width="1" height="11" fill="#c0c0c0"/>
<rect x="430" y="655" width="1" height="14" fill="#c0c0c0"/>
<rect x="438" y="655" width="1" height="17" fill="#c0c0c0"/>
<rect x="446" y="655" width="1" height="21" fill="#c0c0c0"/>
<rect x="454" y="655" width="1" height="26" fill="#c0c0c0"/>
<rect x="462" y="655" width="1" height="30" fill="#c0c0c0"/>
<rect x="470" y="655" width="1" height="31" fill="#c0c0c0"/>
<rect x="478" y="655" width="1" height="33" fill="#c0c0c0"/>
<rect x="486" y="655" width="1" height="36" fill="#c0c0c0"/>
<rect x="494" y="655" width="1" height="35" fill="#c0c0c0"/>
<rect x="502" y="655" width="1" height="33" fill="#c0c0c0"/>
<rect x="510" y="655" width="1" height="36" fill="#c0c0c0"/>
<rect x="518" y="655" width="1" height="31" fill="#c0c0c0"/>
<rect x="526" y="655" width="1" height="27" fill="#c0c0c0"/>
<rect x="534" y="655" width="1" height="24" fill="#c0c0c0"/>
<rect x="542" y="655" width="1" height="18" fill="#c0c0c0"/>
<rect x="550" y="655" width="1" height="14" fill="#c0c0c0"/>
<rect x="558" y="655" width="1" height="8" fill="#c0c0c0"/>
<rect x="566" y="655" width="1" height="5" fill="#c0c0c0"/>
<rect x="574" y="655" width="1" height="4" fill="#c0c0c0"/>
<rect x="582" y="655" width="1" height="6" fill="#c0c0c0"/>
<rect x="590" y="655" width="1" height="5" fill="#c0c0c0"/>
<rect x="598" y="655" width="1" height="6" fill="#c0c0c0"/>
<rect x="606" y="655" width="1" height="7" fill="#c0c0c0"/>
<rect x="614" y="655" width="1" height="13" fill="#c0c0c0"/>
<rect x="622" y="655" width="1" height="17" fill="#c0c0c0"/>
<rect x="630" y="655" width="1" height="23" fill="#c0c0c0"/>
<rect x="638" y="655" width="1" height="28" fill="#c0c0c0"/>
<rect x="646" y="655" width="1" height="27" fill="#c0c0c0"/>
<rect x="654" y="655" width="1" height="23" fill="#c0c0c0"/>
<rect x="662" y="655" width="1" height="26" fill="#c0c0c0"/>
<rect x="670" y="655" width="1" height="25" fill="#c0c0c0"/>
<rect x="678" y="655" width="1" height="24" fill="#c0c0c0"/>
<rect x="686" y="655" width="1" height="22" fill="#c0c0c0"/>
<rect x="694" y="655" width="1" height="23" fill="#c0c0c0"/>
<rect x="702" y="655" width="1" height="22" fill="#c0c0c0"/>
<rect x="710" y="655" width="1" height="16" fill="#c0c0c0"/>
<rect x="718" y="655" width="1" height="12" fill="#c0c0c0"/>
<rect x="726" y="655" width="1" height="8" fill="#c0c0c0"/>
<rect x="734" y="655" width="1" height="5" fill="#c0c0c0"/>
<rect x="742" y="655" width="1" height="1" fill="#c0c0c0"/>
<rect x="750" y="653" width="1" height="3" fill="#c0c0c0"/>
<rect x="758" y="654" width="1" height="2" fill="#c0c0c0"/>
<rect x="766" y="655" width="1" height="1" fill="#c0c0c0"/>
<rect x="774" y="655" width="1" height="5" fill="#c0c0c0"/>
<rect x="782" y="655" width="1" height="6" fill="#c0c0c0"/>
<rect x="790" y="655" width="1" height="7" fill="#c0c0c0"/>
<rect x="798" y="655" width="1" height="8" fill="#c0c0c0"/>
<rect x="806" y="655" width="1" height="8" fill="#c0c0c0"/>
<rect x="814" y="655" width="1" height="8" fill="#c0c0c0"/>
<rect x="822" y="655" width="1" height="5" fill="#c0c0c0"/>
<rect x="830" y="655" width="1" height="3" fill="#c0c0c0"/>
<rect x="838" y="655" width="1" height="3" fill="#c0c0c0"/>
<rect x="846" y="655" width="1" height="3" fill="#c0c0c0"/>
<rect x="854" y="649" width="1" height="7" fill="#c0c0c0"/>
<rect x="862" y="642" width="1" height="14" fill="#c0c0c0"/>
<rect x="870" y="635" width="1" height="21" fill="#c0c0c0"/>
<rect x="878" y="631" width="1" height="25" fill="#c0c0c0"/>
<rect x="886" y="629" width="1" height="27" fill="#c0c0c0"/>
<rect x="894" y="624" width="1" height="32" fill="#c0c0c0"/>
<rect x="902" y="616" width="1" height="40" fill="#c0c0c0"/>
<rect x="910" y="612" width="1" height="44" fill="#c0c0c0"/>
<rect x="918" y="608" width="1" height="48" fill="#c0c0c0"/>
<rect x="926" y="605" width="1" height="51" fill="#c0c0c0"/>
<rect x="934" y="601" width="1" height="55" fill="#c0c0c0"/>
<rect x="942" y="598" width="1" height="58" fill="#c0c0c0"/>
<rect x="950" y="599" width="1" height="57" fill="#c0c0c0"/>
<rect x="958" y="610" width="1" height="46" fill="#c0c0c0"/>
<rect x="966" y="621" width="1" height="35" fill="#c0c0c0"/>
<rect x="974" y="630" width="1" height="26" fill="#c0c0c0"/>
<rect x="982" y="636" width="1" height="20" fill="#c0c0c0"/>
<rect x="990" y="642" width="1" height="14" fill="#c0c0c0"/>
<rect x="998" y="655" width="1" height="3" fill="#c0c0c0"/>
<rect x="1006" y="655" width="1" height="22" fill="#c0c0c0"/>
<rect x="1014" y="655" width="1" height="39" fill="#c0c0c0"/>
<rect x="1022" y="655" width="1" height="54" fill="#c0c0c0"/>
<rect x="1030" y="655" width="1" height="67" fill="#c0c0c0"/>
<rect x="1038" y="655" width="1" height="75" fill="#c0c0c0"/>
<rect x="1046" y="655" width="1" height="84" fill="#c0c0c0"/>
<rect x="1054" y="655" width="1" height="78" fill="#c0c0c0"/>
<rect x="1062" y="655" width="1" height="72" fill="#c0c0c0"/>
<rect x="1070" y="655" width="1" height="65" fill="#c0c0c0"/>
<rect x="1078" y="655" width="1" height="63" fill="#c0c0c0"/>
<rect x="1086" y="655" width="1" height="61" fill="#c0c0c0"/>
<rect x="1094" y="655" width="1" height="68" fill="#c0c0c0"/>
<rect x="1102" y="655" width="1" height="77" fill="#c0c0c0"/>
<rect x="1110" y="655" width="1" height="81" fill="#c0c0c0"/>
<rect x="1118" y="655" width="1" height="80" fill="#c0c0c0"/>
<rect x="1126" y="655" width="1" height="77" fill="#c0c0c0"/>
<rect x="1134" y="655" width="1" height="76" fill="#c0c0c0"/>
<rect x="1142" y="655" width="1" height="73" fill="#c0c0c0"/>
<rect x="1150" y="655" width="1" height="74" fill="#c0c0c0"/>
<rect x="1158" y="655" width="1" height="72" fill="#c0c0c0"/>
<rect x="1166" y="655" width="1" height="71" fill="#c0c0c0"/>
<rect x="1174" y="655" width="1" height="65" fill="#c0c0c0"/>
<rect x="1182" y="655" width="1" height="59" fill="#c0c0c0"/>
<rect x="1190" y="655" width="1" height="57" fill="#c0c0c0"/>
<rect x="1198" y="655" width="1" height="44" fill="#c0c0c0"/>
<rect x="1206" y="655" width="1" height="37" fill="#c0c0c0"/>
<rect x="1214" y="655" width="1" height="28" fill="#c0c0c0"/>
<rect x="1222" y="655" width="1" height="21" fill="#c0c0c0"/>
<rect x="1230" y="655" width="1" height="19" fill="#c0c0c0"/>
<rect x="1238" y="655" width="1" height="21" fill="#c0c0c0"/>
<rect x="1246" y="655" width="1" height="34" fill="#c0c0c0"/>
<rect x="1254" y="655" width="1" height="42" fill="#c0c0c0"/>
<rect x="1262" y="655" width="1" height="47" fill="#c0c0c0"/>
<rect x="1270" y="655" width="1" height="52" fill="#c0c0c0"/>
<rect x="1278" y="655" width="1" height="57" fill="#c0c0c0"/>
<rect x="1286" y="655" width="1" height="60" fill="#c0c0c0"/>
<rect x="1294" y="655" width="1" height="59" fill="#c0c0c0"/>
<rect x="1302" y="655" width="1" height="59" fill="#c0c0c0"/>
<rect x="1310" y="655" width="1" height="55" fill="#c0c0c0"/>
<rect x="1318" y="655" width="1" height="52" fill="#c0c0c0"/>
<rect x="1326" y="655" width="1" height="51" fill="#c0c0c0"/>
<rect x="1334" y="655" width="1" height="46" fill="#c0c0c0"/>
<rect x="1342" y="655" width="1" height="43" fill="#c0c0c0"/>
<rect x="1350" y="655" width="1" height="40" fill="#c0c0c0"/>
<rect x="1358" y="655" width="1" height="38" fill="#c0c0c0"/>
<rect x="1366" y="655" width="1" height="35" fill="#c0c0c0"/>
<rect x="1374" y="655" width="1" height="31" fill="#c0c0c0"/>
<rect x="1382" y="655" width="1" height="30" fill="#c0c0c0"/>
<rect x="1390" y="655" width="1" height="10" fill="#c0c0c0"/>
<rect x="1398" y="649" width="1" height="7" fill="#c0c0c0"/>
<rect x="1406" y="638" width="1" height="18" fill="#c0c0c0"/>
</g>
<polyline points="0.0,608.2 6.5,610.8 14.5,615.5 22.5,619.5 30.5,623.5 38.5,628.1 46.5,632.3 54.5,634.8 62.5,636.0 70.5,636.0 78.5,636.0 86.5,636.6 94.5,635.5 102.5,634.6 110.5,633.8 118.5,633.0 126.5,633.0 134.5,632.8 142.5,632.6 150.5,632.0 158.5,631.3 166.5,630.3 174.5,628.8 182.5,626.8 190.5,624.8 198.5,622.0 206.5,619.6 214.5,617.5 222.5,615.7 230.5,614.3 238.5,613.6 246.5,613.4 254.5,613.8 262.5,614.7 270.5,616.2 278.5,619.0 286.5,622.5 294.5,626.6 302.5,630.9 310.5,635.3 318.5,640.4 326.5,645.6 334.5,650.7 342.5,655.4 350.5,659.0 358.5,661.7 366.5,663.6 374.5,664.9 382.5,665.7 390.5,665.7 398.5,665.2 406.5,664.5 414.5,663.7 422.5,663.3 430.5,663.3 438.5,663.8 446.5,665.0 454.5,666.9 462.5,669.3 470.5,672.0 478.5,675.0 486.5,678.3 494.5,681.0 502.5,683.2 510.5,685.3 518.5,686.4 526.5,686.4 534.5,685.7 542.5,684.3 550.5,682.2 558.5,679.1 566.5,675.7 574.5,672.5 582.5,669.2 590.5,666.3 598.5,664.0 606.5,662.2 614.5,661.6 622.5,662.0 630.5,663.7 638.5,666.2 646.5,668.7 654.5,670.6 662.5,672.9 670.5,675.0 678.5,676.9 686.5,677.9 694.5,678.5 702.5,678.4 710.5,677.1 718.5,675.4 726.5,673.7 734.5,671.3 742.5,668.6 750.5,665.9 758.5,663.5 766.5,661.0 774.5,659.1 782.5,658.0 790.5,657.5 798.5,657.6 806.5,658.0 814.5,658.8 822.5,659.4 830.5,659.8 838.5,660.0 846.5,659.8 854.5,658.6 862.5,656.4 870.5,653.5 878.5,650.0 886.5,646.3 894.5,642.4 902.5,637.9 910.5,632.9 918.5,627.5 926.5,622.6 934.5,618.1 942.5,613.9 950.5,610.3 958.5,608.2 966.5,607.9 974.5,609.4 982.5,612.0 990.5,615.7 998.5,621.5 1006.5,629.9 1014.5,640.5 1022.5,652.5 1030.5,664.8 1038.5,676.8 1046.5,688.9 1054.5,699.5 1062.5,708.9 1070.5,715.8 1078.5,720.3 1086.5,722.8 1094.5,724.3 1102.5,725.5 1110.5,726.1 1118.5,725.7 1126.5,725.6 1134.5,726.0 1142.5,726.9 1150.5,728.0 1158.5,729.3 1166.5,729.7 1174.5,728.4 1182.5,726.0 1190.5,723.4 1198.5,719.7 1206.5,715.4 1214.5,710.5 1222.5,704.7 1230.5,698.7 1238.5,693.1 1246.5,689.6 1254.5,687.7 1262.5,686.6 1270.5,687.5 1278.5,689.7 1286.5,693.2 1294.5,697.4 1302.5,701.8 1310.5,705.7 1318.5,707.7 1326.5,708.7 1334.5,708.6 1342.5,707.7 1350.5,705.8 1358.5,703.4 1366.5,700.7 1374.5,697.6 1382.5,694.9 1390.5,690.2 1398.5,683.9 1406.5,677.1" fill="none" stroke="#ff0000" stroke-width="1" stroke-dasharray="3,3" shape-rendering="crispEdges"/>
<g shape-rendering="crispEdges">
<line x1="3" y1="783.5" x2="1649" y2="783.5" stroke="#c0c0c0" stroke-width="1" stroke-dasharray="3,3"/>
<line x1="3" y1="834.5" x2="1649" y2="834.5" stroke="#c0c0c0" stroke-width="1" stroke-dasharray="3,3"/>
<line x1="3" y1="895.5" x2="1649" y2="895.5" stroke="#c0c0c0" stroke-width="1" stroke-dasharray="3,3"/>
</g>
<polyline points="0.0,840.5 6.5,839.5 14.5,837.4 22.5,834.5 30.5,823.9 38.5,817.6 46.5,818.0 54.5,816.2 62.5,814.5 70.5,810.8 78.5,825.1 86.5,812.2 94.5,819.4 102.5,822.7 110.5,819.1 118.5,811.7 126.5,840.2 134.5,818.5 142.5,819.8 150.5,817.9 158.5,814.7 166.5,810.0 174.5,807.4 182.5,804.2 190.5,805.3 198.5,808.8 206.5,808.8 214.5,811.9 222.5,809.6 230.5,812.3 238.5,813.8 246.5,810.8 254.5,810.3 262.5,816.8 270.5,828.0 278.5,858.1 286.5,848.3 294.5,846.7 302.5,845.8 310.5,842.9 318.5,857.7 326.5,843.3 334.5,846.5 342.5,842.3 350.5,844.8 358.5,839.6 366.5,837.5 374.5,831.7 382.5,835.4 390.5,836.3 398.5,829.3 406.5,838.0 414.5,839.8 422.5,853.4 430.5,851.0 438.5,855.2 446.5,860.9 454.5,866.7 462.5,863.3 470.5,856.4 478.5,862.4 486.5,865.0 494.5,853.7 502.5,849.2 510.5,861.1 518.5,836.7 526.5,835.6 534.5,837.7 542.5,828.3 550.5,828.3 558.5,821.2 566.5,828.4 574.5,834.4 582.5,842.4 590.5,833.9 598.5,838.6 606.5,842.2 614.5,854.9 622.5,855.1 630.5,861.9 638.5,861.9 646.5,847.7 654.5,833.2 662.5,850.5 670.5,843.8 678.5,839.9 686.5,839.7 694.5,846.9 702.5,841.0 710.5,827.7 718.5,829.7 726.5,826.9 734.5,828.7 742.5,825.7 750.5,827.3 758.5,837.4 766.5,835.6 774.5,847.2 782.5,840.8 790.5,840.8 798.5,840.1 806.5,840.9 814.5,837.3 822.5,826.8 830.5,830.9 838.5,832.8 846.5,837.7 854.5,811.2 862.5,806.7 870.5,806.7 878.5,809.1 886.5,811.7 894.5,802.0 902.5,795.4 910.5,801.4 918.5,798.1 926.5,798.3 934.5,793.1 942.5,791.5 950.5,809.4 958.5,840.3 966.5,843.4 974.5,845.2 982.5,839.3 990.5,843.0 998.5,864.1 1006.5,873.6 1014.5,875.2 1022.5,878.0 1030.5,880.0 1038.5,876.3 1046.5,880.4 1054.5,845.2 1062.5,846.5 1070.5,842.8 1078.5,849.5 1086.5,848.9 1094.5,862.7 1102.5,867.8 1110.5,862.0 1118.5,855.7 1126.5,851.0 1134.5,854.7 1142.5,851.3 1150.5,858.1 1158.5,853.6 1166.5,855.0 1174.5,843.8 1182.5,844.2 1190.5,848.8 1198.5,828.0 1206.5,834.1 1214.5,829.0 1222.5,829.1 1230.5,835.8 1238.5,843.7 1246.5,860.6 1254.5,858.4 1262.5,853.5 1270.5,856.6 1278.5,858.9 1286.5,859.1 1294.5,851.1 1302.5,852.5 1310.5,847.0 1318.5,846.3 1326.5,852.0 1334.5,839.4 1342.5,844.7 1350.5,842.9 1358.5,844.5 1366.5,842.0 1374.5,838.3 1382.5,844.8 1390.5,807.6 1398.5,811.2 1406.5,811.1" fill="none" stroke="#1e90ff" stroke-width="1" shape-rendering="crispEdges"/>
<g shape-rendering="crispEdges" fill="#000">
<rect x="0" y="20" width="1650" height="1"/>
<rect x="0" y="587" width="1650" height="1"/>
<rect x="0" y="589" width="1650" height="1"/>
<rect x="0" y="745" width="1650" height="1"/>
<rect x="0" y="747" width="1650" height="1"/>
<rect x="0" y="920" width="1650" height="1"/>
<rect x="1649" y="20" width="1" height="568"/><rect x="1649" y="589" width="1" height="157"/><rect x="1649" y="747" width="1" height="174"/>
</g>
<g shape-rendering="crispEdges">
<rect x="1650" y="24" width="3" height="1" fill="#000"/>
<rect x="1650" y="56" width="3" height="1" fill="#000"/>
<rect x="1650" y="89" width="3" height="1" fill="#000"/>
<rect x="1650" y="122" width="3" height="1" fill="#000"/>
<rect x="1650" y="155" width="3" height="1" fill="#000"/>
<rect x="1650" y="188" width="3" height="1" fill="#000"/>
<rect x="1650" y="254" width="3" height="1" fill="#000"/>
<rect x="1650" y="287" width="3" height="1" fill="#000"/>
<rect x="1650" y="320" width="3" height="1" fill="#000"/>
<rect x="1650" y="353" width="3" height="1" fill="#000"/>
<rect x="1650" y="386" width="3" height="1" fill="#000"/>
<rect x="1650" y="419" width="3" height="1" fill="#000"/>
<rect x="1650" y="452" width="3" height="1" fill="#000"/>
<rect x="1650" y="485" width="3" height="1" fill="#000"/>
<rect x="1650" y="518" width="3" height="1" fill="#000"/>
<rect x="1650" y="551" width="3" height="1" fill="#000"/>
<rect x="1650" y="584" width="3" height="1" fill="#000"/>
</g>
<text x="1655" y="27.3" font-size="9.2" fill="#000" text-anchor="start" font-weight="normal" letter-spacing="0" >35550.5</text>
<text x="1655" y="59.3" font-size="9.2" fill="#000" text-anchor="start" font-weight="normal" letter-spacing="0" >35363.5</text>
<text x="1655" y="92.3" font-size="9.2" fill="#000" text-anchor="start" font-weight="normal" letter-spacing="0" >35171.0</text>
<text x="1655" y="125.3" font-size="9.2" fill="#000" text-anchor="start" font-weight="normal" letter-spacing="0" >34978.5</text>
<text x="1655" y="158.3" font-size="9.2" fill="#000" text-anchor="start" font-weight="normal" letter-spacing="0" >34786.0</text>
<text x="1655" y="191.3" font-size="9.2" fill="#000" text-anchor="start" font-weight="normal" letter-spacing="0" >34593.5</text>
<text x="1655" y="257.3" font-size="9.2" fill="#000" text-anchor="start" font-weight="normal" letter-spacing="0" >34208.5</text>
<text x="1655" y="290.3" font-size="9.2" fill="#000" text-anchor="start" font-weight="normal" letter-spacing="0" >34016.0</text>
<text x="1655" y="323.3" font-size="9.2" fill="#000" text-anchor="start" font-weight="normal" letter-spacing="0" >33829.0</text>
<text x="1655" y="356.3" font-size="9.2" fill="#000" text-anchor="start" font-weight="normal" letter-spacing="0" >33636.5</text>
<text x="1655" y="389.3" font-size="9.2" fill="#000" text-anchor="start" font-weight="normal" letter-spacing="0" >33444.0</text>
<text x="1655" y="422.3" font-size="9.2" fill="#000" text-anchor="start" font-weight="normal" letter-spacing="0" >33251.5</text>
<text x="1655" y="455.3" font-size="9.2" fill="#000" text-anchor="start" font-weight="normal" letter-spacing="0" >33059.0</text>
<text x="1655" y="488.3" font-size="9.2" fill="#000" text-anchor="start" font-weight="normal" letter-spacing="0" >32866.5</text>
<text x="1655" y="521.3" font-size="9.2" fill="#000" text-anchor="start" font-weight="normal" letter-spacing="0" >32674.0</text>
<text x="1655" y="554.3" font-size="9.2" fill="#000" text-anchor="start" font-weight="normal" letter-spacing="0" >32481.5</text>
<text x="1655" y="587.3" font-size="9.2" fill="#000" text-anchor="start" font-weight="normal" letter-spacing="0" >32294.5</text>
<rect x="1651" y="219" width="41" height="11" fill="#ff0000" shape-rendering="crispEdges"/>
<text x="1655" y="228" font-size="9.2" fill="#fff" text-anchor="start" font-weight="normal" letter-spacing="0" >34384.2</text>
<rect x="1651" y="260" width="41" height="11" fill="#ff0000" shape-rendering="crispEdges"/>
<text x="1655" y="269" font-size="9.2" fill="#fff" text-anchor="start" font-weight="normal" letter-spacing="0" >34146.3</text>
<rect x="1651" y="302" width="41" height="11" fill="#000000" shape-rendering="crispEdges"/>
<text x="1655" y="311" font-size="9.2" fill="#fff" text-anchor="start" font-weight="normal" letter-spacing="0" >33901.5</text>
<rect x="1651" y="324" width="41" height="11" fill="#32cd32" shape-rendering="crispEdges"/>
<text x="1655" y="333" font-size="9.2" fill="#fff" text-anchor="start" font-weight="normal" letter-spacing="0" >33774.9</text>
<rect x="1651" y="358" width="41" height="11" fill="#0000ff" shape-rendering="crispEdges"/>
<text x="1655" y="367" font-size="9.2" fill="#fff" text-anchor="start" font-weight="normal" letter-spacing="0" >33577.7</text>
<rect x="1651" y="398" width="41" height="11" fill="#0000ff" shape-rendering="crispEdges"/>
<text x="1655" y="407" font-size="9.2" fill="#fff" text-anchor="start" font-weight="normal" letter-spacing="0" >33345.6</text>
<text x="1653" y="600" font-size="9.2" fill="#000" text-anchor="start" font-weight="normal" letter-spacing="0" >256.25</text>
<text x="1653" y="659" font-size="9.2" fill="#000" text-anchor="start" font-weight="normal" letter-spacing="0" >0.00</text>
<text x="1653" y="742" font-size="9.2" fill="#000" text-anchor="start" font-weight="normal" letter-spacing="0" >-355.62</text>
<rect x="1650" y="591" width="2" height="1" fill="#000" shape-rendering="crispEdges"/>
<rect x="1650" y="655" width="2" height="1" fill="#000" shape-rendering="crispEdges"/>
<rect x="1650" y="744" width="2" height="1" fill="#000" shape-rendering="crispEdges"/>
<text x="1654" y="758" font-size="9.2" fill="#000" text-anchor="start" font-weight="normal" letter-spacing="0" >100</text>
<text x="1654" y="787" font-size="9.2" fill="#000" text-anchor="start" font-weight="normal" letter-spacing="0" >80</text>
<text x="1654" y="838" font-size="9.2" fill="#000" text-anchor="start" font-weight="normal" letter-spacing="0" >50</text>
<text x="1654" y="899" font-size="9.2" fill="#000" text-anchor="start" font-weight="normal" letter-spacing="0" >15</text>
<text x="1654" y="918" font-size="9.2" fill="#000" text-anchor="start" font-weight="normal" letter-spacing="0" >0</text>
<rect x="1650" y="749" width="2" height="1" fill="#000" shape-rendering="crispEdges"/>
<rect x="1650" y="783" width="2" height="1" fill="#000" shape-rendering="crispEdges"/>
<rect x="1650" y="834" width="2" height="1" fill="#000" shape-rendering="crispEdges"/>
<rect x="1650" y="895" width="2" height="1" fill="#000" shape-rendering="crispEdges"/>
<rect x="1650" y="919" width="2" height="1" fill="#000" shape-rendering="crispEdges"/>
<text x="-4" y="602" font-size="9.2" fill="#000" text-anchor="start" font-weight="normal" letter-spacing="0" >MACD(12,26,9) 68.50 -86.19</text>
<text x="-6" y="760" font-size="9.2" fill="#000" text-anchor="start" font-weight="normal" letter-spacing="0" >RSI(14) 63.7728</text>
<text x="5" y="32" font-size="9.2" fill="#000" text-anchor="start" font-weight="normal" letter-spacing="0" >DJ30-,H4&#160;&#160;33901.5 33901.5 33901.5 33901.5</text>
<text x="2" y="934" font-size="9.2" fill="#000" text-anchor="start" font-weight="normal" letter-spacing="0" >Mar 2022</text>
<polygon points="34.5,21 36.5,23 34.5,25 32.5,23" fill="none" stroke="#000" stroke-width="0.9"/>
<rect x="54" y="921" width="1" height="4" fill="#000" shape-rendering="crispEdges"/>
<text x="53" y="934" font-size="9.2" fill="#000" text-anchor="start" font-weight="normal" letter-spacing="0" >25 Mar 00:00</text>
<rect x="118" y="921" width="1" height="4" fill="#000" shape-rendering="crispEdges"/>
<text x="117" y="934" font-size="9.2" fill="#000" text-anchor="start" font-weight="normal" letter-spacing="0" >28 Mar 08:00</text>
<rect x="182" y="921" width="1" height="4" fill="#000" shape-rendering="crispEdges"/>
<text x="181" y="934" font-size="9.2" fill="#000" text-anchor="start" font-weight="normal" letter-spacing="0" >29 Mar 16:00</text>
<rect x="246" y="921" width="1" height="4" fill="#000" shape-rendering="crispEdges"/>
<text x="245" y="934" font-size="9.2" fill="#000" text-anchor="start" font-weight="normal" letter-spacing="0" >31 Mar 00:00</text>
<rect x="310" y="921" width="1" height="4" fill="#000" shape-rendering="crispEdges"/>
<text x="309" y="934" font-size="9.2" fill="#000" text-anchor="start" font-weight="normal" letter-spacing="0" >1 Apr 08:00</text>
<rect x="374" y="921" width="1" height="4" fill="#000" shape-rendering="crispEdges"/>
<text x="373" y="934" font-size="9.2" fill="#000" text-anchor="start" font-weight="normal" letter-spacing="0" >4 Apr 16:00</text>
<rect x="438" y="921" width="1" height="4" fill="#000" shape-rendering="crispEdges"/>
<text x="437" y="934" font-size="9.2" fill="#000" text-anchor="start" font-weight="normal" letter-spacing="0" >6 Apr 00:00</text>
<rect x="502" y="921" width="1" height="4" fill="#000" shape-rendering="crispEdges"/>
<text x="501" y="934" font-size="9.2" fill="#000" text-anchor="start" font-weight="normal" letter-spacing="0" >7 Apr 08:00</text>
<rect x="566" y="921" width="1" height="4" fill="#000" shape-rendering="crispEdges"/>
<text x="565" y="934" font-size="9.2" fill="#000" text-anchor="start" font-weight="normal" letter-spacing="0" >8 Apr 16:00</text>
<rect x="630" y="921" width="1" height="4" fill="#000" shape-rendering="crispEdges"/>
<text x="629" y="934" font-size="9.2" fill="#000" text-anchor="start" font-weight="normal" letter-spacing="0" >12 Apr 00:00</text>
<rect x="694" y="921" width="1" height="4" fill="#000" shape-rendering="crispEdges"/>
<text x="693" y="934" font-size="9.2" fill="#000" text-anchor="start" font-weight="normal" letter-spacing="0" >13 Apr 08:00</text>
<rect x="758" y="921" width="1" height="4" fill="#000" shape-rendering="crispEdges"/>
<text x="757" y="934" font-size="9.2" fill="#000" text-anchor="start" font-weight="normal" letter-spacing="0" >14 Apr 16:00</text>
<rect x="822" y="921" width="1" height="4" fill="#000" shape-rendering="crispEdges"/>
<text x="821" y="934" font-size="9.2" fill="#000" text-anchor="start" font-weight="normal" letter-spacing="0" >18 Apr 20:00</text>
<rect x="886" y="921" width="1" height="4" fill="#000" shape-rendering="crispEdges"/>
<text x="885" y="934" font-size="9.2" fill="#000" text-anchor="start" font-weight="normal" letter-spacing="0" >20 Apr 04:00</text>
<rect x="950" y="921" width="1" height="4" fill="#000" shape-rendering="crispEdges"/>
<text x="949" y="934" font-size="9.2" fill="#000" text-anchor="start" font-weight="normal" letter-spacing="0" >21 Apr 12:00</text>
<rect x="1014" y="921" width="1" height="4" fill="#000" shape-rendering="crispEdges"/>
<text x="1013" y="934" font-size="9.2" fill="#000" text-anchor="start" font-weight="normal" letter-spacing="0" >24 Apr 23:00</text>
<rect x="1078" y="921" width="1" height="4" fill="#000" shape-rendering="crispEdges"/>
<text x="1077" y="934" font-size="9.2" fill="#000" text-anchor="start" font-weight="normal" letter-spacing="0" >26 Apr 04:00</text>
<rect x="1142" y="921" width="1" height="4" fill="#000" shape-rendering="crispEdges"/>
<text x="1141" y="934" font-size="9.2" fill="#000" text-anchor="start" font-weight="normal" letter-spacing="0" >27 Apr 12:00</text>
<rect x="1206" y="921" width="1" height="4" fill="#000" shape-rendering="crispEdges"/>
<text x="1205" y="934" font-size="9.2" fill="#000" text-anchor="start" font-weight="normal" letter-spacing="0" >28 Apr 20:00</text>
<rect x="1270" y="921" width="1" height="4" fill="#000" shape-rendering="crispEdges"/>
<text x="1269" y="934" font-size="9.2" fill="#000" text-anchor="start" font-weight="normal" letter-spacing="0" >2 May 04:00</text>
<rect x="1334" y="921" width="1" height="4" fill="#000" shape-rendering="crispEdges"/>
<text x="1333" y="934" font-size="9.2" fill="#000" text-anchor="start" font-weight="normal" letter-spacing="0" >3 May 12:00</text>
<rect x="1398" y="921" width="1" height="4" fill="#000" shape-rendering="crispEdges"/>
<text x="1397" y="934" font-size="9.2" fill="#000" text-anchor="start" font-weight="normal" letter-spacing="0" >4 May 20:00</text>
<rect x="1127.5" y="287.5" width="61" height="18" fill="#fff" stroke="#ff0000" stroke-width="1" shape-rendering="crispEdges"/><text x="1158.0" y="302" font-size="16" fill="#ff0000" text-anchor="middle" font-weight="normal" letter-spacing="0" >33967.3</text>
<path d="M1189 296.5 H1198.5" stroke="#ff0000" fill="none" shape-rendering="crispEdges"/>
<rect x="1319.5" y="276.5" width="61" height="18" fill="#fff" stroke="#ff0000" stroke-width="1" shape-rendering="crispEdges"/><text x="1350.0" y="291" font-size="16" fill="#ff0000" text-anchor="middle" font-weight="normal" letter-spacing="0" >34030.2</text>
<path d="M1381 285.5 H1390.5" stroke="#ff0000" fill="none" shape-rendering="crispEdges"/><rect x="1381.5" y="283.5" width="3" height="3" fill="#fff" stroke="#f00" shape-rendering="crispEdges"/>
<rect x="1223.5" y="566.5" width="61" height="18" fill="#fff" stroke="#ff0000" stroke-width="1" shape-rendering="crispEdges"/><text x="1254.0" y="581" font-size="16" fill="#ff0000" text-anchor="middle" font-weight="normal" letter-spacing="0" >32353.4</text>
<path d="M1285 574.5 H1294.5" stroke="#ff0000" fill="none" shape-rendering="crispEdges"/>
<rect x="1265.5" y="317.5" width="73" height="24" fill="#fff" stroke="#ff0000" stroke-width="1" shape-rendering="crispEdges"/><text x="1302.0" y="337" font-size="20" fill="#ff0000" text-anchor="middle" font-weight="normal" letter-spacing="0" >33774.9</text>
<path d="M1255 329.5 H1265" stroke="#ff0000" fill="none" shape-rendering="crispEdges"/><rect x="1262.5" y="327.5" width="3" height="3" fill="#fff" stroke="#f00" shape-rendering="crispEdges"/>
<line x1="1296" y1="567" x2="1407.9963386175084" y2="310.6635525607891" stroke="#ff0000" stroke-width="3.3"/><polygon points="1412,301.5 1411.9606536726203,314.5781669918426 1402.4305590093998,310.4143591540513" fill="#ff0000"/>
<line x1="1336" y1="706" x2="1407.4209944348452" y2="644.5237009927916" stroke="#ff0000" stroke-width="3.3"/><polygon points="1415,638 1409.2975178380657,649.7695240852305 1402.5128688055624,641.8873582974694" fill="#ff0000"/>
<line x1="1308" y1="855" x2="1415.8618845137976" y2="807.0613846605345" stroke="#ff0000" stroke-width="3.3"/><polygon points="1425,803 1416.146181440035,812.6254816454667 1411.922341393079,803.121841539816" fill="#ff0000"/>
<rect x="1695" y="18" width="1" height="917" fill="#e3e3e3" shape-rendering="crispEdges"/>
<polygon points="1411,21 1420,21 1415.5,26" fill="#c0c0c0"/>
</svg>
<svg width="1696" height="20" style="position:absolute;left:0;top:0">
<rect x="0" y="0" width="1696" height="15" fill="#f0f0f0"/>
<rect x="0" y="15" width="1696" height="1" fill="#dcdcdc"/>
<rect x="0" y="16" width="1696" height="1" fill="#8c8c8c"/>
<rect x="0" y="17" width="1696" height="1" fill="#a9a9a9"/>
<g shape-rendering="crispEdges">
<rect x="10" y="0" width="1" height="14" fill="#a0a0a0"/><rect x="11" y="0" width="1" height="14" fill="#fcfcfc"/>
<rect x="246" y="0" width="1" height="14" fill="#a0a0a0"/><rect x="247" y="0" width="1" height="14" fill="#fcfcfc"/>
<rect x="341" y="0" width="1" height="14" fill="#a0a0a0"/><rect x="342" y="0" width="1" height="14" fill="#fcfcfc"/>
<rect x="432" y="0" width="1" height="14" fill="#a0a0a0"/><rect x="433" y="0" width="1" height="14" fill="#fcfcfc"/>
<rect x="493" y="0" width="1" height="14" fill="#a0a0a0"/><rect x="494" y="0" width="1" height="14" fill="#fcfcfc"/>
<rect x="681" y="0" width="1" height="14" fill="#a0a0a0"/><rect x="682" y="0" width="1" height="14" fill="#fcfcfc"/>
<rect x="1182" y="0" width="1" height="14" fill="#a0a0a0"/><rect x="1183" y="0" width="1" height="14" fill="#fcfcfc"/>
<rect x="250" y="1" width="3" height="1" fill="#a8a8a8"/><rect x="250" y="3" width="3" height="1" fill="#a8a8a8"/><rect x="250" y="5" width="3" height="1" fill="#a8a8a8"/><rect x="250" y="7" width="3" height="1" fill="#a8a8a8"/><rect x="250" y="9" width="3" height="1" fill="#a8a8a8"/><rect x="250" y="11" width="3" height="1" fill="#a8a8a8"/><rect x="250" y="13" width="3" height="1" fill="#a8a8a8"/>
<rect x="436" y="1" width="3" height="1" fill="#a8a8a8"/><rect x="436" y="3" width="3" height="1" fill="#a8a8a8"/><rect x="436" y="5" width="3" height="1" fill="#a8a8a8"/><rect x="436" y="7" width="3" height="1" fill="#a8a8a8"/><rect x="436" y="9" width="3" height="1" fill="#a8a8a8"/><rect x="436" y="11" width="3" height="1" fill="#a8a8a8"/><rect x="436" y="13" width="3" height="1" fill="#a8a8a8"/>
<rect x="615" y="1" width="3" height="1" fill="#a8a8a8"/><rect x="615" y="3" width="3" height="1" fill="#a8a8a8"/><rect x="615" y="5" width="3" height="1" fill="#a8a8a8"/><rect x="615" y="7" width="3" height="1" fill="#a8a8a8"/><rect x="615" y="9" width="3" height="1" fill="#a8a8a8"/><rect x="615" y="11" width="3" height="1" fill="#a8a8a8"/><rect x="615" y="13" width="3" height="1" fill="#a8a8a8"/>
<rect x="923" y="1" width="3" height="1" fill="#a8a8a8"/><rect x="923" y="3" width="3" height="1" fill="#a8a8a8"/><rect x="923" y="5" width="3" height="1" fill="#a8a8a8"/><rect x="923" y="7" width="3" height="1" fill="#a8a8a8"/><rect x="923" y="9" width="3" height="1" fill="#a8a8a8"/><rect x="923" y="11" width="3" height="1" fill="#a8a8a8"/><rect x="923" y="13" width="3" height="1" fill="#a8a8a8"/>
<rect x="285" y="0" width="24" height="14" fill="#f7f7f7"/>
<rect x="625" y="0" width="25" height="14" fill="#f7f7f7"/>
<rect x="1070" y="0" width="25" height="14" fill="#f7f7f7"/><rect x="1069" y="0" width="1" height="14" fill="#a0a0a0"/>
</g>
<polygon points="0,8 2.5,11 1,13 0,13" fill="#e0a63a"/>
<rect x="20.5" y="-3.5" width="10" height="12" fill="#fff" stroke="#8a8a8a"/>
<rect x="22" y="2" width="6" height="1" fill="#9a9a9a"/><rect x="22" y="4.5" width="6" height="1" fill="#9a9a9a"/>
<path d="M28 3h4v4h4v4h-4v4h-4v-4h-4v-4h4z" fill="#27cc33" stroke="#17951f" stroke-width="0.8"/>
<g stroke="#111" stroke-width="1.3" fill="none"><path d="M39.5 1.5h6M40 3.8h5.5M42.7 3.8v4.8M40.5 6l-1.5 2.5M44.5 6l1.5 2M47.5 0.5v8M47.5 3h3.5M50.3 3v5.5"/><path d="M53 0.5l1.8 1.8M53 3.8h2.2v4.7M57 1.5h6.5M60.8 1.5v6.8l-1.6 -0.8"/><path d="M66 0.5v4h8.5v-4M66 2.5h8.5M65 6.3h10.5M70.2 0v8.8"/></g>
<polygon points="87,6.5 95,-1.5 103.5,5 96.5,12.5" fill="#e7b93a" stroke="#a7791a" stroke-width="0.8"/>
<polygon points="88,7.5 96.5,12.5 96,14 87.5,9" fill="#b98a22"/><path d="M90 5l6 -5" stroke="#f6dc7c" stroke-width="1"/>
<rect x="117" y="-1" width="10" height="6" fill="#3b8ee8"/><rect x="119" y="0" width="6" height="3" fill="#9fd0ff"/>
<g fill="#f2f5fa" stroke="#8ca3c7" stroke-width="0.9"><circle cx="118.5" cy="9" r="2.6"/><circle cx="122.5" cy="7" r="3.2"/><circle cx="127" cy="9" r="2.6"/><rect x="117" y="9" width="11" height="2.6" stroke="none"/></g>
<path d="M116 11.5h12" stroke="#8ca3c7" stroke-width="0.9"/>
<g fill="none" stroke-width="1"><circle cx="151" cy="4" r="7" stroke="#9fc79f" stroke-width="1.6"/><circle cx="151" cy="4" r="4.5" stroke="#7fa0d8"/><circle cx="151" cy="4" r="2.2" stroke="#6f8fe0"/></g>
<circle cx="150.5" cy="3.5" r="1.2" fill="#2a5bd0"/><rect x="150" y="4" width="1.2" height="8" fill="#2aa02a"/>
<ellipse cx="177" cy="0" rx="7" ry="3.5" fill="#4aa6e0"/>
<polygon points="170.5,3 184,3 180,11 176,11" fill="#f0d460" stroke="#c9a230" stroke-width="0.6"/>
<circle cx="182.5" cy="7.5" r="4" fill="#d8261c"/><rect x="181" y="6" width="3" height="3" fill="#fff"/>
<g stroke="#111" stroke-width="1.3" fill="none"><path d="M192.5 0v8.5h7v-8.5M192.5 2.5h7M192.5 5.3h7"/><path d="M203 1.3h4.5M203 4h4.5M205.2 4v3.5l-2.2 1M209.5 0v8.5M209.5 2.5h3.5v5.8l-1.2 -0.6"/><path d="M215.5 1.5l-2.5 2.5M221 1.5l2.5 2.5M214 5l8 3.8M222.5 5l-8.5 3.8"/><path d="M226 0.3v3.5h7v-3.5M226 2h7M225 5.5h10M228.3 5.5l-2.5 3.2M231.5 5.5l-1.8 3.2M235 5.5v3l-1.2 0"/></g>
<rect x="264" y="0" width="1" height="12" fill="#555"/><rect x="262" y="9" width="14" height="1" fill="#555"/><polygon points="276,7.5 278,9.5 276,11.5" fill="#555"/>
<path d="M266 7.5h2.5v-6h2.5v-2" stroke="#1da01d" stroke-width="1.3" fill="none"/>
<rect x="292" y="0" width="1" height="12" fill="#555"/><rect x="290" y="9" width="14" height="1" fill="#555"/><polygon points="304,7.5 306,9.5 304,11.5" fill="#555"/>
<rect x="296" y="-1" width="4.5" height="7" fill="#2bcf2b" stroke="#14a014" stroke-width="0.6"/><rect x="298" y="6" width="1" height="1.5" fill="#14a014"/>
<rect x="320" y="0" width="1" height="12" fill="#555"/><rect x="318" y="9" width="14" height="1" fill="#555"/><polygon points="332,7.5 334,9.5 332,11.5" fill="#555"/>
<path d="M319.5 6.5 Q325 -2 330.5 5" stroke="#2aa02a" stroke-width="1.2" fill="none"/>
<line x1="358" y1="5" x2="362" y2="9.5" stroke="#c9a42a" stroke-width="2.4"/><circle cx="355" cy="2" r="5" fill="#cfe6f7" stroke="#3d8fd8" stroke-width="1.3"/><rect x="352.5" y="1.3" width="5" height="1.4" fill="#2f6fc0"/><rect x="354.3" y="-1" width="1.4" height="5" fill="#2f6fc0"/>
<line x1="386" y1="5" x2="390" y2="9.5" stroke="#c9a42a" stroke-width="2.4"/><circle cx="383" cy="2" r="5" fill="#cfe6f7" stroke="#3d8fd8" stroke-width="1.3"/><rect x="380.5" y="1.3" width="5" height="1.4" fill="#2f6fc0"/>
<g shape-rendering="crispEdges"><rect x="405" y="-2" width="7" height="6" fill="#3f9f3f"/><rect x="413" y="-2" width="7" height="6" fill="#3a74d0"/><rect x="405" y="5" width="7" height="6" fill="#3a74d0"/><rect x="413" y="5" width="7" height="6" fill="#3f9f3f"/><rect x="406" y="7" width="5" height="2" fill="#e8f0ff"/><rect x="414" y="7" width="5" height="2" fill="#e8ffe8"/></g>
<rect x="444" y="0" width="1" height="12" fill="#555"/><rect x="442" y="9" width="14" height="1" fill="#555"/><polygon points="456,7.5 458,9.5 456,11.5" fill="#555"/>
<polygon points="449,-1 453,3.5 449,7" fill="#27b427"/>
<rect x="471" y="0" width="1" height="12" fill="#555"/><rect x="469" y="9" width="14" height="1" fill="#555"/><polygon points="483,7.5 485,9.5 483,11.5" fill="#555"/>
<rect x="478" y="-1" width="1.3" height="10" fill="#2c6ed0"/><polygon points="480,3 484,0.5 484,5.5" fill="#e0532a"/><rect x="482" y="2.5" width="3" height="1.2" fill="#e0532a"/>
<rect x="504.5" y="-3.5" width="10" height="11" fill="#fff" stroke="#8a8a8a"/><path d="M511 4h4v4h4v4h-4v4h-4v-4h-4v-4h4z" fill="#27cc33" stroke="#17951f" stroke-width="0.8"/>
<polygon points="524,3 530,3 527,6.5" fill="#111"/>
<circle cx="549" cy="3" r="7" fill="#fff" stroke="#2f7fd6" stroke-width="2.2"/><path d="M549 0v3.5h2.5" stroke="#555" stroke-width="0.9" fill="none"/>
<polygon points="563,3 569,3 566,6.5" fill="#111"/>
<rect x="580.5" y="-2.5" width="15" height="13" fill="#fff" stroke="#3a7fd0" stroke-width="1.2"/><rect x="581" y="4" width="14" height="1" fill="#3a7fd0"/><path d="M582 2l3-1 3 1 3-1 3 0" stroke="#c0392b" fill="none" stroke-width="0.9"/><path d="M582 8l3-2 3 1.5 3-2 3 1" stroke="#27a327" fill="none" stroke-width="0.9"/>
<polygon points="602,3 608,3 605,6.5" fill="#111"/>
<polygon points="631,-2 631,9 634,7 637,12 639,11 636.5,6 640.5,5.5" fill="#333"/>
<g shape-rendering="crispEdges" fill="#555"><rect x="664" y="0" width="1" height="12"/><rect x="657" y="4" width="15" height="1"/><rect x="698" y="0" width="1" height="11"/><rect x="721" y="4" width="12" height="1"/></g>
<line x1="748" y1="11" x2="760" y2="0" stroke="#555" stroke-width="1.1"/>
<g stroke="#555" stroke-width="1" fill="none"><path d="M775 8l7-7M778 9l7-7M776 5h8M777 3h7"/></g><text x="786" y="12" font-size="7" font-weight="bold" fill="#444" font-family="Liberation Sans, sans-serif">E</text>
<g shape-rendering="crispEdges" fill="#555"><rect x="804" y="1" width="12" height="1"/><rect x="804" y="4" width="12" height="1"/><rect x="804" y="7" width="9" height="1"/></g><text x="813" y="12" font-size="7" font-weight="bold" fill="#444" font-family="Liberation Sans, sans-serif">F</text>
<text x="834" y="9" font-size="11" fill="#555" font-family="Liberation Sans, sans-serif">A</text>
<rect x="861.5" y="0.5" width="10" height="10" fill="none" stroke="#777" stroke-dasharray="1,1"/><text x="863" y="9" font-size="10" fill="#555" font-family="Liberation Sans, sans-serif">T</text>
<path d="M887 2l3 3 4-5M892 5l3 3" stroke="#444" stroke-width="1.4" fill="none"/><polygon points="893,6 897,6 898,9 895,10" fill="#333"/>
<polygon points="909,3 915,3 912,6.5" fill="#111"/>
<text x="936" y="8" font-size="9.4" fill="#3a3a3a" font-family="Liberation Sans, sans-serif" letter-spacing="0.3">M1</text>
<text x="963" y="8" font-size="9.4" fill="#3a3a3a" font-family="Liberation Sans, sans-serif" letter-spacing="0.3">M5</text>
<text x="989" y="8" font-size="9.4" fill="#3a3a3a" font-family="Liberation Sans, sans-serif" letter-spacing="0.3">M15</text>
<text x="1017" y="8" font-size="9.4" fill="#3a3a3a" font-family="Liberation Sans, sans-serif" letter-spacing="0.3">M30</text>
<text x="1048" y="8" font-size="9.4" fill="#3a3a3a" font-family="Liberation Sans, sans-serif" letter-spacing="0.3">H1</text>
<text x="1075" y="8" font-size="9.4" fill="#3a3a3a" font-family="Liberation Sans, sans-serif" letter-spacing="0.3">H4</text>
<text x="1104" y="8" font-size="9.4" fill="#3a3a3a" font-family="Liberation Sans, sans-serif" letter-spacing="0.3">D1</text>
<text x="1132" y="8" font-size="9.4" fill="#3a3a3a" font-family="Liberation Sans, sans-serif" letter-spacing="0.3">W1</text>
<text x="1158" y="8" font-size="9.4" fill="#3a3a3a" font-family="Liberation Sans, sans-serif" letter-spacing="0.3">MN</text>
<line x1="1644" y1="9" x2="1648" y2="5" stroke="#2a62c9" stroke-width="2.4"/><circle cx="1651" cy="2" r="3.6" fill="none" stroke="#3b73d9" stroke-width="1.3"/>
<ellipse cx="1675" cy="7" rx="7" ry="4.5" fill="#e8e8ea" stroke="#a8a8ae" stroke-width="0.8"/><polygon points="1671,10 1672,13 1675,11" fill="#c8c8cc"/>
<circle cx="1683" cy="2.5" r="6" fill="#d93a22"/><rect x="1682" y="-1" width="1.5" height="6" fill="#fff"/><rect x="1680.5" y="4.5" width="4.5" height="1" fill="#fff"/>
</svg>

<div style="position:absolute;left:0;top:40px;width:44px;height:23px;background:linear-gradient(#f55c60,#d6333a);border-top:1px solid #b41a1e;border-right:1px solid #b41a1e;box-sizing:border-box;width:45px;height:24px"></div>
<div style="position:absolute;left:0;top:63px;width:41px;height:1px;background:#8e0c10"></div>
<div style="position:absolute;left:160px;top:40px;width:52px;height:24px;background:linear-gradient(#f55c60,#d6333a);border-top:1px solid #b41a1e;border-left:1px solid #b41a1e;border-right:1px solid #b41a1e;box-sizing:border-box"></div>
<div style="position:absolute;left:164px;top:63px;width:44px;height:1px;background:#8e0c10"></div>
<div style="position:absolute;left:0;top:65px;width:102px;height:32px;background:linear-gradient(#d92d33,#b0060c);border-bottom:1px solid #9a0408;box-sizing:border-box"></div>
<div style="position:absolute;left:0;top:64px;width:102px;height:1px;background:#d32a2f"></div>
<div style="position:absolute;left:41px;top:63px;width:61px;height:2px;background:#d32a2f"></div>
<div style="position:absolute;left:104px;top:64px;width:108px;height:33px;background:linear-gradient(#d92d33,#b0060c);border-bottom:1px solid #9a0408;box-sizing:border-box"></div>
<div style="position:absolute;left:104px;top:63px;width:60px;height:2px;background:#d32a2f"></div>
<div style="position:absolute;left:208px;top:63px;width:4px;height:2px;background:#d32a2f"></div>
<div style="position:absolute;left:0;top:64px;width:41px;height:1px;background:#ef6a6d"></div>
<div style="position:absolute;left:164px;top:64px;width:44px;height:1px;background:#ef6a6d"></div>
<div style="position:absolute;left:45px;top:40px;width:115px;height:23px;background:#fff"></div>
<div style="position:absolute;left:47px;top:40px;width:110px;height:21px;border:1px solid #a9a9a9;background:#fff"></div>
<div style="position:absolute;left:48px;top:41px;width:20px;height:21px;background:linear-gradient(#f4f4f4,#d6d6d6);border-right:1px solid #b9b9b9"></div>
<div style="position:absolute;left:137px;top:41px;width:20px;height:21px;background:linear-gradient(#f4f4f4,#d6d6d6);border-left:1px solid #b9b9b9"></div>

<svg width="1696" height="935" style="position:absolute;left:0;top:0">
<polygon points="55.5,50 59.5,50 57.5,53" fill="#4a5fb5"/>
<polygon points="144.5,53 148.5,53 146.5,50" fill="#4a5fb5"/>
<text x="5.2" y="56" font-size="12" fill="#fff" textLength="26" lengthAdjust="spacingAndGlyphs">SELL</text>
<text x="173.6" y="56" font-size="12" fill="#fff" textLength="23" lengthAdjust="spacingAndGlyphs">BUY</text>
<text x="109.6" y="55" font-size="11.5" fill="#000" textLength="23" lengthAdjust="spacingAndGlyphs">1.00</text>
<text x="9.7" y="92" font-size="11.5" font-weight="bold" fill="#fff" textLength="34" lengthAdjust="spacingAndGlyphs">33900</text>
<rect x="48" y="88" width="4" height="4" fill="#fff"/>
<text x="53.5" y="92" font-size="33" fill="#fff" textLength="17.5" lengthAdjust="spacingAndGlyphs">0</text>
<text x="119.7" y="92" font-size="11.5" font-weight="bold" fill="#fff" textLength="33.5" lengthAdjust="spacingAndGlyphs">33910</text>
<rect x="159" y="88" width="4" height="4" fill="#fff"/>
<text x="165.5" y="92" font-size="33" fill="#fff" textLength="17.5" lengthAdjust="spacingAndGlyphs">0</text>
</svg>
</body></html>
